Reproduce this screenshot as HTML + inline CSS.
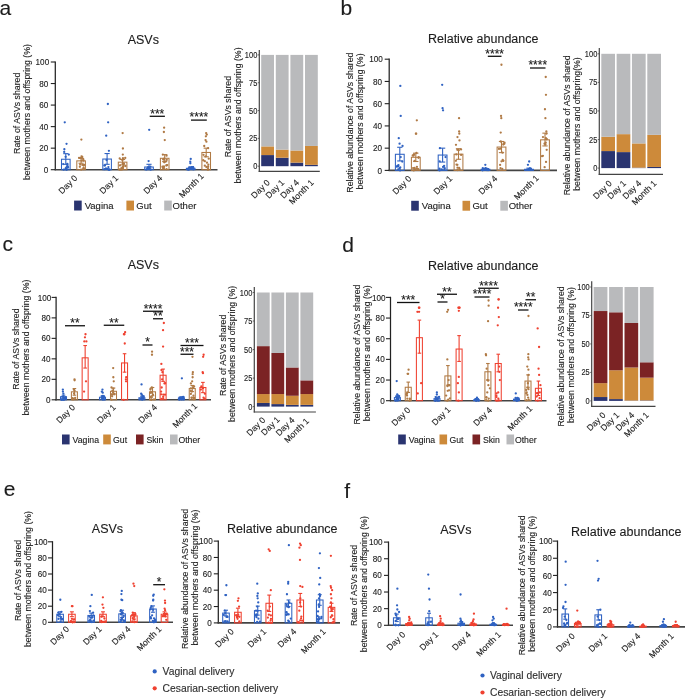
<!DOCTYPE html>
<html><head><meta charset="utf-8"><style>
html,body{margin:0;padding:0;background:#fff;}
svg{display:block;font-family:"Liberation Sans", sans-serif;will-change:transform;}
text{stroke:#1c1c1c;stroke-width:0.12px;}
</style></head><body>
<svg width="685" height="698" viewBox="0 0 685 698">
<rect width="685" height="698" fill="#fff"/>
<text x="-0.50" y="14.70" font-size="21" text-anchor="start" fill="#1c1c1c">a</text>
<text x="340.50" y="15.20" font-size="21" text-anchor="start" fill="#1c1c1c">b</text>
<text x="2.50" y="250.70" font-size="21" text-anchor="start" fill="#1c1c1c">c</text>
<text x="342.30" y="251.50" font-size="21" text-anchor="start" fill="#1c1c1c">d</text>
<text x="3.70" y="495.70" font-size="21" text-anchor="start" fill="#1c1c1c">e</text>
<text x="344.20" y="498.00" font-size="21" text-anchor="start" fill="#1c1c1c">f</text>
<text x="143.30" y="44.20" font-size="12.5" text-anchor="middle" fill="#1c1c1c">ASVs</text>
<text x="483.20" y="42.70" font-size="12.5" text-anchor="middle" fill="#1c1c1c">Relative abundance</text>
<text x="143.30" y="269.20" font-size="12.5" text-anchor="middle" fill="#1c1c1c">ASVs</text>
<text x="483.20" y="270.20" font-size="12.5" text-anchor="middle" fill="#1c1c1c">Relative abundance</text>
<text x="107.50" y="532.70" font-size="12.5" text-anchor="middle" fill="#1c1c1c">ASVs</text>
<text x="282.30" y="533.00" font-size="12.5" text-anchor="middle" fill="#1c1c1c">Relative abundance</text>
<text x="455.80" y="533.70" font-size="12.5" text-anchor="middle" fill="#1c1c1c">ASVs</text>
<text x="626.20" y="535.50" font-size="12.5" text-anchor="middle" fill="#1c1c1c">Relative abundance</text>
<text x="20.05" y="113.30" font-size="8.75" text-anchor="middle" fill="#1c1c1c" transform="rotate(-90 20.05 113.30)">Rate of ASVs shared</text>
<text x="30.30" y="112.05" font-size="8.75" text-anchor="middle" fill="#1c1c1c" transform="rotate(-90 30.30 112.05)">between mothers and offspring (%)</text>
<line x1="55.30" y1="61.40" x2="55.30" y2="170.30" stroke="#222" stroke-width="1.25" stroke-linecap="butt"/>
<line x1="54.70" y1="169.70" x2="217.50" y2="169.70" stroke="#444" stroke-width="1.6" stroke-linecap="butt"/>
<line x1="50.80" y1="169.70" x2="55.30" y2="169.70" stroke="#222" stroke-width="1.1" stroke-linecap="butt"/>
<text transform="translate(48.40 172.80) scale(0.95 1)" font-size="8.6" text-anchor="end" fill="#1c1c1c">0</text>
<line x1="50.80" y1="148.16" x2="55.30" y2="148.16" stroke="#222" stroke-width="1.1" stroke-linecap="butt"/>
<text transform="translate(48.40 151.26) scale(0.95 1)" font-size="8.6" text-anchor="end" fill="#1c1c1c">20</text>
<line x1="50.80" y1="126.62" x2="55.30" y2="126.62" stroke="#222" stroke-width="1.1" stroke-linecap="butt"/>
<text transform="translate(48.40 129.72) scale(0.95 1)" font-size="8.6" text-anchor="end" fill="#1c1c1c">40</text>
<line x1="50.80" y1="105.08" x2="55.30" y2="105.08" stroke="#222" stroke-width="1.1" stroke-linecap="butt"/>
<text transform="translate(48.40 108.18) scale(0.95 1)" font-size="8.6" text-anchor="end" fill="#1c1c1c">60</text>
<line x1="50.80" y1="83.54" x2="55.30" y2="83.54" stroke="#222" stroke-width="1.1" stroke-linecap="butt"/>
<text transform="translate(48.40 86.64) scale(0.95 1)" font-size="8.6" text-anchor="end" fill="#1c1c1c">80</text>
<line x1="50.80" y1="62.00" x2="55.30" y2="62.00" stroke="#222" stroke-width="1.1" stroke-linecap="butt"/>
<text transform="translate(49.20 65.10) scale(0.95 1)" font-size="8.6" text-anchor="end" fill="#1c1c1c">100</text>
<circle cx="64.75" cy="122.31" r="1.15" fill="#2f62c2"/>
<circle cx="66.53" cy="143.85" r="1.15" fill="#2f62c2"/>
<circle cx="64.35" cy="149.24" r="1.15" fill="#2f62c2"/>
<circle cx="64.20" cy="151.93" r="1.15" fill="#2f62c2"/>
<circle cx="68.78" cy="154.62" r="1.15" fill="#2f62c2"/>
<circle cx="65.62" cy="156.78" r="1.15" fill="#2f62c2"/>
<circle cx="67.83" cy="166.47" r="1.15" fill="#2f62c2"/>
<circle cx="65.66" cy="168.62" r="1.15" fill="#2f62c2"/>
<circle cx="66.64" cy="169.16" r="1.15" fill="#2f62c2"/>
<circle cx="63.70" cy="169.70" r="1.15" fill="#2f62c2"/>
<circle cx="66.61" cy="169.70" r="1.15" fill="#2f62c2"/>
<circle cx="68.02" cy="167.55" r="1.15" fill="#2f62c2"/>
<circle cx="65.94" cy="168.03" r="1.15" fill="#2f62c2"/>
<circle cx="67.25" cy="164.82" r="1.15" fill="#2f62c2"/>
<circle cx="66.83" cy="166.74" r="1.15" fill="#2f62c2"/>
<circle cx="63.18" cy="164.11" r="1.15" fill="#2f62c2"/>
<circle cx="67.35" cy="163.85" r="1.15" fill="#2f62c2"/>
<circle cx="66.35" cy="169.39" r="1.15" fill="#2f62c2"/>
<rect x="61.50" y="159.25" width="8.60" height="10.45" fill="none" stroke="#2f62c2" stroke-width="1.05"/>
<line x1="65.80" y1="153.65" x2="65.80" y2="164.31" stroke="#2f62c2" stroke-width="1.1" stroke-linecap="butt"/>
<line x1="63.22" y1="153.65" x2="68.38" y2="153.65" stroke="#2f62c2" stroke-width="1.1" stroke-linecap="butt"/>
<line x1="63.22" y1="164.31" x2="68.38" y2="164.31" stroke="#2f62c2" stroke-width="1.1" stroke-linecap="butt"/>
<circle cx="81.37" cy="139.54" r="1.15" fill="#b07a45"/>
<circle cx="79.90" cy="166.76" r="1.15" fill="#b07a45"/>
<circle cx="81.14" cy="169.55" r="1.15" fill="#b07a45"/>
<circle cx="80.41" cy="158.10" r="1.15" fill="#b07a45"/>
<circle cx="80.20" cy="164.41" r="1.15" fill="#b07a45"/>
<circle cx="81.61" cy="160.58" r="1.15" fill="#b07a45"/>
<circle cx="81.61" cy="157.86" r="1.15" fill="#b07a45"/>
<circle cx="83.53" cy="160.66" r="1.15" fill="#b07a45"/>
<circle cx="82.20" cy="157.12" r="1.15" fill="#b07a45"/>
<circle cx="83.68" cy="165.52" r="1.15" fill="#b07a45"/>
<circle cx="83.25" cy="159.21" r="1.15" fill="#b07a45"/>
<circle cx="84.06" cy="164.82" r="1.15" fill="#b07a45"/>
<circle cx="82.13" cy="156.86" r="1.15" fill="#b07a45"/>
<circle cx="79.07" cy="157.86" r="1.15" fill="#b07a45"/>
<circle cx="83.27" cy="169.02" r="1.15" fill="#b07a45"/>
<circle cx="83.90" cy="168.65" r="1.15" fill="#b07a45"/>
<circle cx="83.54" cy="167.78" r="1.15" fill="#b07a45"/>
<circle cx="81.52" cy="156.32" r="1.15" fill="#b07a45"/>
<circle cx="82.39" cy="164.94" r="1.15" fill="#b07a45"/>
<rect x="76.80" y="160.87" width="8.60" height="8.83" fill="none" stroke="#b07a45" stroke-width="1.05"/>
<line x1="81.10" y1="158.39" x2="81.10" y2="163.24" stroke="#b07a45" stroke-width="1.1" stroke-linecap="butt"/>
<line x1="78.52" y1="158.39" x2="83.68" y2="158.39" stroke="#b07a45" stroke-width="1.1" stroke-linecap="butt"/>
<line x1="78.52" y1="163.24" x2="83.68" y2="163.24" stroke="#b07a45" stroke-width="1.1" stroke-linecap="butt"/>
<circle cx="107.86" cy="104.00" r="1.15" fill="#2f62c2"/>
<circle cx="108.15" cy="122.31" r="1.15" fill="#2f62c2"/>
<circle cx="106.22" cy="135.67" r="1.15" fill="#2f62c2"/>
<circle cx="108.91" cy="150.85" r="1.15" fill="#2f62c2"/>
<circle cx="106.56" cy="160.01" r="1.15" fill="#2f62c2"/>
<circle cx="105.00" cy="165.39" r="1.15" fill="#2f62c2"/>
<circle cx="105.86" cy="168.62" r="1.15" fill="#2f62c2"/>
<circle cx="108.72" cy="169.70" r="1.15" fill="#2f62c2"/>
<circle cx="109.34" cy="169.70" r="1.15" fill="#2f62c2"/>
<circle cx="104.36" cy="169.16" r="1.15" fill="#2f62c2"/>
<circle cx="107.79" cy="168.99" r="1.15" fill="#2f62c2"/>
<circle cx="104.36" cy="165.46" r="1.15" fill="#2f62c2"/>
<circle cx="108.42" cy="167.09" r="1.15" fill="#2f62c2"/>
<circle cx="106.08" cy="168.65" r="1.15" fill="#2f62c2"/>
<circle cx="109.39" cy="169.55" r="1.15" fill="#2f62c2"/>
<rect x="102.80" y="159.04" width="8.60" height="10.66" fill="none" stroke="#2f62c2" stroke-width="1.05"/>
<line x1="107.10" y1="153.54" x2="107.10" y2="164.31" stroke="#2f62c2" stroke-width="1.1" stroke-linecap="butt"/>
<line x1="104.52" y1="153.54" x2="109.68" y2="153.54" stroke="#2f62c2" stroke-width="1.1" stroke-linecap="butt"/>
<line x1="104.52" y1="164.31" x2="109.68" y2="164.31" stroke="#2f62c2" stroke-width="1.1" stroke-linecap="butt"/>
<circle cx="122.64" cy="133.08" r="1.15" fill="#b07a45"/>
<circle cx="122.91" cy="148.48" r="1.15" fill="#b07a45"/>
<circle cx="122.81" cy="154.62" r="1.15" fill="#b07a45"/>
<circle cx="122.96" cy="158.15" r="1.15" fill="#b07a45"/>
<circle cx="123.32" cy="164.82" r="1.15" fill="#b07a45"/>
<circle cx="125.25" cy="157.88" r="1.15" fill="#b07a45"/>
<circle cx="122.64" cy="167.12" r="1.15" fill="#b07a45"/>
<circle cx="122.19" cy="169.28" r="1.15" fill="#b07a45"/>
<circle cx="123.93" cy="163.60" r="1.15" fill="#b07a45"/>
<circle cx="121.02" cy="169.57" r="1.15" fill="#b07a45"/>
<circle cx="121.40" cy="168.26" r="1.15" fill="#b07a45"/>
<circle cx="125.48" cy="166.01" r="1.15" fill="#b07a45"/>
<circle cx="122.73" cy="163.46" r="1.15" fill="#b07a45"/>
<circle cx="122.89" cy="168.64" r="1.15" fill="#b07a45"/>
<circle cx="119.66" cy="169.51" r="1.15" fill="#b07a45"/>
<circle cx="122.09" cy="159.85" r="1.15" fill="#b07a45"/>
<circle cx="123.08" cy="167.07" r="1.15" fill="#b07a45"/>
<circle cx="119.71" cy="158.49" r="1.15" fill="#b07a45"/>
<circle cx="123.30" cy="159.42" r="1.15" fill="#b07a45"/>
<circle cx="123.40" cy="166.36" r="1.15" fill="#b07a45"/>
<circle cx="119.95" cy="165.38" r="1.15" fill="#b07a45"/>
<rect x="118.30" y="162.16" width="8.60" height="7.54" fill="none" stroke="#b07a45" stroke-width="1.05"/>
<line x1="122.60" y1="159.47" x2="122.60" y2="164.85" stroke="#b07a45" stroke-width="1.1" stroke-linecap="butt"/>
<line x1="120.02" y1="159.47" x2="125.18" y2="159.47" stroke="#b07a45" stroke-width="1.1" stroke-linecap="butt"/>
<line x1="120.02" y1="164.85" x2="125.18" y2="164.85" stroke="#b07a45" stroke-width="1.1" stroke-linecap="butt"/>
<circle cx="149.20" cy="129.85" r="1.15" fill="#2f62c2"/>
<circle cx="148.61" cy="161.08" r="1.15" fill="#2f62c2"/>
<circle cx="148.18" cy="167.94" r="1.15" fill="#2f62c2"/>
<circle cx="147.87" cy="168.50" r="1.15" fill="#2f62c2"/>
<circle cx="148.21" cy="167.75" r="1.15" fill="#2f62c2"/>
<circle cx="149.58" cy="168.87" r="1.15" fill="#2f62c2"/>
<circle cx="147.80" cy="167.64" r="1.15" fill="#2f62c2"/>
<circle cx="148.26" cy="167.52" r="1.15" fill="#2f62c2"/>
<circle cx="150.64" cy="169.68" r="1.15" fill="#2f62c2"/>
<circle cx="146.15" cy="169.62" r="1.15" fill="#2f62c2"/>
<circle cx="149.42" cy="167.76" r="1.15" fill="#2f62c2"/>
<circle cx="150.42" cy="166.62" r="1.15" fill="#2f62c2"/>
<circle cx="147.86" cy="169.16" r="1.15" fill="#2f62c2"/>
<circle cx="147.33" cy="168.53" r="1.15" fill="#2f62c2"/>
<rect x="144.70" y="167.01" width="8.60" height="2.69" fill="none" stroke="#2f62c2" stroke-width="1.05"/>
<line x1="149.00" y1="164.31" x2="149.00" y2="169.16" stroke="#2f62c2" stroke-width="1.1" stroke-linecap="butt"/>
<line x1="146.42" y1="164.31" x2="151.58" y2="164.31" stroke="#2f62c2" stroke-width="1.1" stroke-linecap="butt"/>
<line x1="146.42" y1="169.16" x2="151.58" y2="169.16" stroke="#2f62c2" stroke-width="1.1" stroke-linecap="butt"/>
<circle cx="164.11" cy="127.70" r="1.15" fill="#b07a45"/>
<circle cx="163.88" cy="132.00" r="1.15" fill="#b07a45"/>
<circle cx="164.76" cy="140.08" r="1.15" fill="#b07a45"/>
<circle cx="162.84" cy="154.62" r="1.15" fill="#b07a45"/>
<circle cx="166.55" cy="155.70" r="1.15" fill="#b07a45"/>
<circle cx="166.74" cy="159.97" r="1.15" fill="#b07a45"/>
<circle cx="162.80" cy="167.69" r="1.15" fill="#b07a45"/>
<circle cx="163.37" cy="168.23" r="1.15" fill="#b07a45"/>
<circle cx="166.55" cy="165.32" r="1.15" fill="#b07a45"/>
<circle cx="165.55" cy="161.60" r="1.15" fill="#b07a45"/>
<circle cx="166.54" cy="169.04" r="1.15" fill="#b07a45"/>
<circle cx="163.77" cy="166.74" r="1.15" fill="#b07a45"/>
<circle cx="162.47" cy="166.60" r="1.15" fill="#b07a45"/>
<circle cx="163.45" cy="159.50" r="1.15" fill="#b07a45"/>
<circle cx="166.47" cy="165.28" r="1.15" fill="#b07a45"/>
<circle cx="163.32" cy="159.15" r="1.15" fill="#b07a45"/>
<circle cx="163.78" cy="168.42" r="1.15" fill="#b07a45"/>
<circle cx="164.20" cy="166.56" r="1.15" fill="#b07a45"/>
<circle cx="164.22" cy="162.31" r="1.15" fill="#b07a45"/>
<circle cx="164.16" cy="158.68" r="1.15" fill="#b07a45"/>
<circle cx="167.23" cy="165.11" r="1.15" fill="#b07a45"/>
<rect x="160.40" y="158.28" width="8.60" height="11.42" fill="none" stroke="#b07a45" stroke-width="1.05"/>
<line x1="164.70" y1="154.62" x2="164.70" y2="161.62" stroke="#b07a45" stroke-width="1.1" stroke-linecap="butt"/>
<line x1="162.12" y1="154.62" x2="167.28" y2="154.62" stroke="#b07a45" stroke-width="1.1" stroke-linecap="butt"/>
<line x1="162.12" y1="161.62" x2="167.28" y2="161.62" stroke="#b07a45" stroke-width="1.1" stroke-linecap="butt"/>
<circle cx="190.74" cy="158.93" r="1.15" fill="#2f62c2"/>
<circle cx="190.25" cy="161.62" r="1.15" fill="#2f62c2"/>
<circle cx="190.36" cy="163.24" r="1.15" fill="#2f62c2"/>
<circle cx="189.06" cy="169.46" r="1.15" fill="#2f62c2"/>
<circle cx="188.10" cy="169.70" r="1.15" fill="#2f62c2"/>
<circle cx="191.23" cy="167.20" r="1.15" fill="#2f62c2"/>
<circle cx="189.42" cy="167.42" r="1.15" fill="#2f62c2"/>
<circle cx="192.57" cy="167.05" r="1.15" fill="#2f62c2"/>
<circle cx="187.96" cy="168.79" r="1.15" fill="#2f62c2"/>
<circle cx="193.13" cy="167.18" r="1.15" fill="#2f62c2"/>
<circle cx="191.87" cy="167.26" r="1.15" fill="#2f62c2"/>
<circle cx="193.25" cy="169.32" r="1.15" fill="#2f62c2"/>
<circle cx="193.09" cy="167.86" r="1.15" fill="#2f62c2"/>
<circle cx="193.11" cy="167.56" r="1.15" fill="#2f62c2"/>
<circle cx="191.16" cy="168.12" r="1.15" fill="#2f62c2"/>
<rect x="186.40" y="168.30" width="8.60" height="1.40" fill="none" stroke="#2f62c2" stroke-width="1.05"/>
<line x1="190.70" y1="167.22" x2="190.70" y2="169.38" stroke="#2f62c2" stroke-width="1.1" stroke-linecap="butt"/>
<line x1="188.12" y1="167.22" x2="193.28" y2="167.22" stroke="#2f62c2" stroke-width="1.1" stroke-linecap="butt"/>
<line x1="188.12" y1="169.38" x2="193.28" y2="169.38" stroke="#2f62c2" stroke-width="1.1" stroke-linecap="butt"/>
<circle cx="206.15" cy="133.08" r="1.15" fill="#b07a45"/>
<circle cx="206.81" cy="134.59" r="1.15" fill="#b07a45"/>
<circle cx="205.88" cy="136.31" r="1.15" fill="#b07a45"/>
<circle cx="205.55" cy="140.08" r="1.15" fill="#b07a45"/>
<circle cx="206.41" cy="141.70" r="1.15" fill="#b07a45"/>
<circle cx="208.11" cy="148.16" r="1.15" fill="#b07a45"/>
<circle cx="204.22" cy="146.01" r="1.15" fill="#b07a45"/>
<circle cx="207.96" cy="169.64" r="1.15" fill="#b07a45"/>
<circle cx="208.74" cy="158.68" r="1.15" fill="#b07a45"/>
<circle cx="208.04" cy="168.06" r="1.15" fill="#b07a45"/>
<circle cx="208.15" cy="166.32" r="1.15" fill="#b07a45"/>
<circle cx="203.24" cy="160.23" r="1.15" fill="#b07a45"/>
<circle cx="206.97" cy="162.71" r="1.15" fill="#b07a45"/>
<circle cx="208.38" cy="164.57" r="1.15" fill="#b07a45"/>
<circle cx="203.49" cy="154.81" r="1.15" fill="#b07a45"/>
<circle cx="204.82" cy="161.16" r="1.15" fill="#b07a45"/>
<circle cx="204.81" cy="165.71" r="1.15" fill="#b07a45"/>
<circle cx="206.36" cy="167.00" r="1.15" fill="#b07a45"/>
<circle cx="205.74" cy="156.39" r="1.15" fill="#b07a45"/>
<rect x="201.90" y="152.47" width="8.60" height="17.23" fill="none" stroke="#b07a45" stroke-width="1.05"/>
<line x1="206.20" y1="148.16" x2="206.20" y2="156.78" stroke="#b07a45" stroke-width="1.1" stroke-linecap="butt"/>
<line x1="203.62" y1="148.16" x2="208.78" y2="148.16" stroke="#b07a45" stroke-width="1.1" stroke-linecap="butt"/>
<line x1="203.62" y1="156.78" x2="208.78" y2="156.78" stroke="#b07a45" stroke-width="1.1" stroke-linecap="butt"/>
<line x1="149.70" y1="116.30" x2="164.90" y2="116.30" stroke="#111" stroke-width="1.3" stroke-linecap="butt"/>
<text x="157.30" y="117.60" font-size="12" text-anchor="middle" fill="#1c1c1c">***</text>
<line x1="191.00" y1="120.10" x2="206.80" y2="120.10" stroke="#111" stroke-width="1.3" stroke-linecap="butt"/>
<text x="198.90" y="121.40" font-size="12" text-anchor="middle" fill="#1c1c1c">****</text>
<text x="78.00" y="178.50" font-size="8.6" text-anchor="end" fill="#1c1c1c" transform="rotate(-45 78.00 178.50)">Day 0</text>
<text x="119.00" y="178.50" font-size="8.6" text-anchor="end" fill="#1c1c1c" transform="rotate(-45 119.00 178.50)">Day 1</text>
<text x="162.80" y="178.50" font-size="8.6" text-anchor="end" fill="#1c1c1c" transform="rotate(-45 162.80 178.50)">Day 4</text>
<text x="204.50" y="176.50" font-size="8.6" text-anchor="end" fill="#1c1c1c" transform="rotate(-45 204.50 176.50)">Month 1</text>
<rect x="74.10" y="200.60" width="7.60" height="9.90" fill="#2a3470"/>
<text x="84.70" y="208.60" font-size="9.5" text-anchor="start" fill="#1c1c1c">Vagina</text>
<rect x="126.40" y="200.60" width="7.60" height="9.90" fill="#cd8a3a"/>
<text x="136.30" y="208.60" font-size="9.5" text-anchor="start" fill="#1c1c1c">Gut</text>
<rect x="164.20" y="200.60" width="7.60" height="9.90" fill="#b9babc"/>
<text x="172.60" y="208.60" font-size="9.5" text-anchor="start" fill="#1c1c1c">Other</text>
<text x="231.10" y="116.55" font-size="8.75" text-anchor="middle" fill="#1c1c1c" transform="rotate(-90 231.10 116.55)">Rate of ASVs shared</text>
<text x="240.70" y="115.45" font-size="8.75" text-anchor="middle" fill="#1c1c1c" transform="rotate(-90 240.70 115.45)">between mothers and offspring (%)</text>
<line x1="259.30" y1="49.90" x2="259.30" y2="171.90" stroke="#444" stroke-width="1.2" stroke-linecap="butt"/>
<line x1="258.70" y1="171.30" x2="319.80" y2="171.30" stroke="#444" stroke-width="1.2" stroke-linecap="butt"/>
<line x1="257.80" y1="166.20" x2="259.30" y2="166.20" stroke="#444" stroke-width="0.8" stroke-linecap="butt"/>
<text transform="translate(257.30 169.20) scale(0.9 1)" font-size="8.3" text-anchor="end" fill="#1c1c1c">0</text>
<line x1="257.80" y1="138.38" x2="259.30" y2="138.38" stroke="#444" stroke-width="0.8" stroke-linecap="butt"/>
<text transform="translate(257.30 141.38) scale(0.9 1)" font-size="8.3" text-anchor="end" fill="#1c1c1c">25</text>
<line x1="257.80" y1="110.55" x2="259.30" y2="110.55" stroke="#444" stroke-width="0.8" stroke-linecap="butt"/>
<text transform="translate(257.30 113.55) scale(0.9 1)" font-size="8.3" text-anchor="end" fill="#1c1c1c">50</text>
<line x1="257.80" y1="82.73" x2="259.30" y2="82.73" stroke="#444" stroke-width="0.8" stroke-linecap="butt"/>
<text transform="translate(257.30 85.73) scale(0.9 1)" font-size="8.3" text-anchor="end" fill="#1c1c1c">75</text>
<line x1="257.80" y1="54.90" x2="259.30" y2="54.90" stroke="#444" stroke-width="0.8" stroke-linecap="butt"/>
<text transform="translate(257.30 57.90) scale(0.9 1)" font-size="8.3" text-anchor="end" fill="#1c1c1c">100</text>
<rect x="261.20" y="155.07" width="12.80" height="11.13" fill="#2a3470"/>
<rect x="261.20" y="146.39" width="12.80" height="8.68" fill="#cd8a3a"/>
<rect x="261.20" y="54.90" width="12.80" height="91.49" fill="#b9babc"/>
<rect x="275.80" y="157.74" width="12.80" height="8.46" fill="#2a3470"/>
<rect x="275.80" y="149.62" width="12.80" height="8.12" fill="#cd8a3a"/>
<rect x="275.80" y="54.90" width="12.80" height="94.72" fill="#b9babc"/>
<rect x="290.40" y="162.64" width="12.80" height="3.56" fill="#2a3470"/>
<rect x="290.40" y="150.51" width="12.80" height="12.13" fill="#cd8a3a"/>
<rect x="290.40" y="54.90" width="12.80" height="95.61" fill="#b9babc"/>
<rect x="305.00" y="164.86" width="12.80" height="1.34" fill="#2a3470"/>
<rect x="305.00" y="145.94" width="12.80" height="18.92" fill="#cd8a3a"/>
<rect x="305.00" y="54.90" width="12.80" height="91.04" fill="#b9babc"/>
<text x="270.50" y="183.00" font-size="8.6" text-anchor="end" fill="#1c1c1c" transform="rotate(-45 270.50 183.00)">Day 0</text>
<text x="285.00" y="183.00" font-size="8.6" text-anchor="end" fill="#1c1c1c" transform="rotate(-45 285.00 183.00)">Day 1</text>
<text x="299.60" y="183.00" font-size="8.6" text-anchor="end" fill="#1c1c1c" transform="rotate(-45 299.60 183.00)">Day 4</text>
<text x="314.50" y="183.00" font-size="8.6" text-anchor="end" fill="#1c1c1c" transform="rotate(-45 314.50 183.00)">Month 1</text>
<text x="353.10" y="122.60" font-size="8.75" text-anchor="middle" fill="#1c1c1c" transform="rotate(-90 353.10 122.60)">Relative abundance of ASVs shared</text>
<text x="362.60" y="121.45" font-size="8.75" text-anchor="middle" fill="#1c1c1c" transform="rotate(-90 362.60 121.45)">between mothers and offspring (%)</text>
<line x1="389.20" y1="58.60" x2="389.20" y2="171.00" stroke="#222" stroke-width="1.25" stroke-linecap="butt"/>
<line x1="388.60" y1="170.40" x2="557.00" y2="170.40" stroke="#444" stroke-width="1.6" stroke-linecap="butt"/>
<line x1="384.70" y1="170.40" x2="389.20" y2="170.40" stroke="#222" stroke-width="1.1" stroke-linecap="butt"/>
<text transform="translate(382.00 173.50) scale(0.95 1)" font-size="8.6" text-anchor="end" fill="#1c1c1c">0</text>
<line x1="384.70" y1="148.16" x2="389.20" y2="148.16" stroke="#222" stroke-width="1.1" stroke-linecap="butt"/>
<text transform="translate(382.00 151.26) scale(0.95 1)" font-size="8.6" text-anchor="end" fill="#1c1c1c">20</text>
<line x1="384.70" y1="125.92" x2="389.20" y2="125.92" stroke="#222" stroke-width="1.1" stroke-linecap="butt"/>
<text transform="translate(382.00 129.02) scale(0.95 1)" font-size="8.6" text-anchor="end" fill="#1c1c1c">40</text>
<line x1="384.70" y1="103.68" x2="389.20" y2="103.68" stroke="#222" stroke-width="1.1" stroke-linecap="butt"/>
<text transform="translate(382.00 106.78) scale(0.95 1)" font-size="8.6" text-anchor="end" fill="#1c1c1c">60</text>
<line x1="384.70" y1="81.44" x2="389.20" y2="81.44" stroke="#222" stroke-width="1.1" stroke-linecap="butt"/>
<text transform="translate(382.00 84.54) scale(0.95 1)" font-size="8.6" text-anchor="end" fill="#1c1c1c">80</text>
<line x1="384.70" y1="59.20" x2="389.20" y2="59.20" stroke="#222" stroke-width="1.1" stroke-linecap="butt"/>
<text transform="translate(382.80 62.30) scale(0.95 1)" font-size="8.6" text-anchor="end" fill="#1c1c1c">100</text>
<circle cx="400.33" cy="85.89" r="1.15" fill="#2f62c2"/>
<circle cx="400.73" cy="115.91" r="1.15" fill="#2f62c2"/>
<circle cx="398.76" cy="138.15" r="1.15" fill="#2f62c2"/>
<circle cx="399.59" cy="143.71" r="1.15" fill="#2f62c2"/>
<circle cx="402.53" cy="145.94" r="1.15" fill="#2f62c2"/>
<circle cx="400.72" cy="157.06" r="1.15" fill="#2f62c2"/>
<circle cx="402.27" cy="161.50" r="1.15" fill="#2f62c2"/>
<circle cx="397.42" cy="165.95" r="1.15" fill="#2f62c2"/>
<circle cx="399.61" cy="168.18" r="1.15" fill="#2f62c2"/>
<circle cx="398.24" cy="169.29" r="1.15" fill="#2f62c2"/>
<circle cx="400.07" cy="170.40" r="1.15" fill="#2f62c2"/>
<circle cx="400.26" cy="167.40" r="1.15" fill="#2f62c2"/>
<circle cx="396.80" cy="166.63" r="1.15" fill="#2f62c2"/>
<circle cx="398.06" cy="166.27" r="1.15" fill="#2f62c2"/>
<circle cx="398.44" cy="165.25" r="1.15" fill="#2f62c2"/>
<rect x="395.40" y="154.28" width="8.80" height="16.12" fill="none" stroke="#2f62c2" stroke-width="1.05"/>
<line x1="399.80" y1="147.27" x2="399.80" y2="160.95" stroke="#2f62c2" stroke-width="1.1" stroke-linecap="butt"/>
<line x1="397.16" y1="147.27" x2="402.44" y2="147.27" stroke="#2f62c2" stroke-width="1.1" stroke-linecap="butt"/>
<line x1="397.16" y1="160.95" x2="402.44" y2="160.95" stroke="#2f62c2" stroke-width="1.1" stroke-linecap="butt"/>
<circle cx="416.82" cy="120.36" r="1.15" fill="#b07a45"/>
<circle cx="415.89" cy="133.70" r="1.15" fill="#b07a45"/>
<circle cx="416.19" cy="133.70" r="1.15" fill="#b07a45"/>
<circle cx="413.98" cy="154.52" r="1.15" fill="#b07a45"/>
<circle cx="418.52" cy="157.82" r="1.15" fill="#b07a45"/>
<circle cx="416.97" cy="168.76" r="1.15" fill="#b07a45"/>
<circle cx="418.67" cy="157.15" r="1.15" fill="#b07a45"/>
<circle cx="418.23" cy="169.03" r="1.15" fill="#b07a45"/>
<circle cx="414.56" cy="160.89" r="1.15" fill="#b07a45"/>
<circle cx="414.94" cy="169.19" r="1.15" fill="#b07a45"/>
<circle cx="413.74" cy="170.40" r="1.15" fill="#b07a45"/>
<circle cx="413.62" cy="155.52" r="1.15" fill="#b07a45"/>
<circle cx="413.12" cy="168.07" r="1.15" fill="#b07a45"/>
<circle cx="414.58" cy="167.98" r="1.15" fill="#b07a45"/>
<circle cx="416.44" cy="153.01" r="1.15" fill="#b07a45"/>
<circle cx="412.74" cy="155.50" r="1.15" fill="#b07a45"/>
<circle cx="416.90" cy="166.85" r="1.15" fill="#b07a45"/>
<rect x="411.40" y="157.28" width="8.80" height="13.12" fill="none" stroke="#b07a45" stroke-width="1.05"/>
<line x1="415.80" y1="153.16" x2="415.80" y2="161.50" stroke="#b07a45" stroke-width="1.1" stroke-linecap="butt"/>
<line x1="413.16" y1="153.16" x2="418.44" y2="153.16" stroke="#b07a45" stroke-width="1.1" stroke-linecap="butt"/>
<line x1="413.16" y1="161.50" x2="418.44" y2="161.50" stroke="#b07a45" stroke-width="1.1" stroke-linecap="butt"/>
<circle cx="442.19" cy="84.78" r="1.15" fill="#2f62c2"/>
<circle cx="442.56" cy="108.13" r="1.15" fill="#2f62c2"/>
<circle cx="443.05" cy="110.35" r="1.15" fill="#2f62c2"/>
<circle cx="439.87" cy="148.16" r="1.15" fill="#2f62c2"/>
<circle cx="445.53" cy="157.06" r="1.15" fill="#2f62c2"/>
<circle cx="439.66" cy="161.50" r="1.15" fill="#2f62c2"/>
<circle cx="444.14" cy="165.95" r="1.15" fill="#2f62c2"/>
<circle cx="444.72" cy="168.18" r="1.15" fill="#2f62c2"/>
<circle cx="439.63" cy="170.40" r="1.15" fill="#2f62c2"/>
<circle cx="444.37" cy="169.31" r="1.15" fill="#2f62c2"/>
<circle cx="441.78" cy="169.43" r="1.15" fill="#2f62c2"/>
<circle cx="443.08" cy="166.97" r="1.15" fill="#2f62c2"/>
<circle cx="439.58" cy="168.68" r="1.15" fill="#2f62c2"/>
<rect x="438.20" y="155.05" width="8.80" height="15.35" fill="none" stroke="#2f62c2" stroke-width="1.05"/>
<line x1="442.60" y1="148.16" x2="442.60" y2="162.06" stroke="#2f62c2" stroke-width="1.1" stroke-linecap="butt"/>
<line x1="439.96" y1="148.16" x2="445.24" y2="148.16" stroke="#2f62c2" stroke-width="1.1" stroke-linecap="butt"/>
<line x1="439.96" y1="162.06" x2="445.24" y2="162.06" stroke="#2f62c2" stroke-width="1.1" stroke-linecap="butt"/>
<circle cx="459.05" cy="118.14" r="1.15" fill="#b07a45"/>
<circle cx="459.15" cy="131.48" r="1.15" fill="#b07a45"/>
<circle cx="459.29" cy="133.70" r="1.15" fill="#b07a45"/>
<circle cx="457.48" cy="137.04" r="1.15" fill="#b07a45"/>
<circle cx="459.48" cy="140.38" r="1.15" fill="#b07a45"/>
<circle cx="455.98" cy="144.82" r="1.15" fill="#b07a45"/>
<circle cx="457.52" cy="169.99" r="1.15" fill="#b07a45"/>
<circle cx="459.18" cy="167.99" r="1.15" fill="#b07a45"/>
<circle cx="461.08" cy="149.45" r="1.15" fill="#b07a45"/>
<circle cx="457.51" cy="167.72" r="1.15" fill="#b07a45"/>
<circle cx="461.11" cy="154.95" r="1.15" fill="#b07a45"/>
<circle cx="458.78" cy="150.17" r="1.15" fill="#b07a45"/>
<circle cx="457.34" cy="149.82" r="1.15" fill="#b07a45"/>
<circle cx="457.37" cy="164.84" r="1.15" fill="#b07a45"/>
<circle cx="456.51" cy="164.62" r="1.15" fill="#b07a45"/>
<circle cx="455.90" cy="160.78" r="1.15" fill="#b07a45"/>
<circle cx="456.34" cy="154.42" r="1.15" fill="#b07a45"/>
<circle cx="459.67" cy="169.17" r="1.15" fill="#b07a45"/>
<rect x="454.10" y="154.16" width="8.80" height="16.24" fill="none" stroke="#b07a45" stroke-width="1.05"/>
<line x1="458.50" y1="148.72" x2="458.50" y2="159.28" stroke="#b07a45" stroke-width="1.1" stroke-linecap="butt"/>
<line x1="455.86" y1="148.72" x2="461.14" y2="148.72" stroke="#b07a45" stroke-width="1.1" stroke-linecap="butt"/>
<line x1="455.86" y1="159.28" x2="461.14" y2="159.28" stroke="#b07a45" stroke-width="1.1" stroke-linecap="butt"/>
<circle cx="485.33" cy="164.84" r="1.15" fill="#2f62c2"/>
<circle cx="482.76" cy="168.19" r="1.15" fill="#2f62c2"/>
<circle cx="488.06" cy="170.19" r="1.15" fill="#2f62c2"/>
<circle cx="482.62" cy="170.36" r="1.15" fill="#2f62c2"/>
<circle cx="485.46" cy="168.21" r="1.15" fill="#2f62c2"/>
<circle cx="487.58" cy="169.42" r="1.15" fill="#2f62c2"/>
<circle cx="483.22" cy="169.71" r="1.15" fill="#2f62c2"/>
<circle cx="486.93" cy="170.06" r="1.15" fill="#2f62c2"/>
<circle cx="488.27" cy="169.27" r="1.15" fill="#2f62c2"/>
<circle cx="486.30" cy="168.66" r="1.15" fill="#2f62c2"/>
<circle cx="487.27" cy="169.60" r="1.15" fill="#2f62c2"/>
<rect x="481.10" y="169.29" width="8.80" height="1.11" fill="none" stroke="#2f62c2" stroke-width="1.05"/>
<line x1="485.50" y1="168.40" x2="485.50" y2="170.18" stroke="#2f62c2" stroke-width="1.1" stroke-linecap="butt"/>
<line x1="482.86" y1="168.40" x2="488.14" y2="168.40" stroke="#2f62c2" stroke-width="1.1" stroke-linecap="butt"/>
<line x1="482.86" y1="170.18" x2="488.14" y2="170.18" stroke="#2f62c2" stroke-width="1.1" stroke-linecap="butt"/>
<circle cx="501.45" cy="64.76" r="1.15" fill="#b07a45"/>
<circle cx="501.04" cy="115.91" r="1.15" fill="#b07a45"/>
<circle cx="501.29" cy="118.14" r="1.15" fill="#b07a45"/>
<circle cx="500.72" cy="132.59" r="1.15" fill="#b07a45"/>
<circle cx="500.74" cy="141.49" r="1.15" fill="#b07a45"/>
<circle cx="504.51" cy="142.60" r="1.15" fill="#b07a45"/>
<circle cx="504.33" cy="143.71" r="1.15" fill="#b07a45"/>
<circle cx="502.28" cy="168.95" r="1.15" fill="#b07a45"/>
<circle cx="501.50" cy="161.37" r="1.15" fill="#b07a45"/>
<circle cx="500.51" cy="168.15" r="1.15" fill="#b07a45"/>
<circle cx="498.97" cy="148.97" r="1.15" fill="#b07a45"/>
<circle cx="500.10" cy="164.95" r="1.15" fill="#b07a45"/>
<circle cx="503.24" cy="160.86" r="1.15" fill="#b07a45"/>
<circle cx="503.76" cy="143.74" r="1.15" fill="#b07a45"/>
<circle cx="500.65" cy="148.72" r="1.15" fill="#b07a45"/>
<circle cx="503.26" cy="144.54" r="1.15" fill="#b07a45"/>
<circle cx="503.19" cy="160.85" r="1.15" fill="#b07a45"/>
<circle cx="502.70" cy="159.89" r="1.15" fill="#b07a45"/>
<circle cx="502.51" cy="152.69" r="1.15" fill="#b07a45"/>
<rect x="497.10" y="147.05" width="8.80" height="23.35" fill="none" stroke="#b07a45" stroke-width="1.05"/>
<line x1="501.50" y1="141.49" x2="501.50" y2="152.61" stroke="#b07a45" stroke-width="1.1" stroke-linecap="butt"/>
<line x1="498.86" y1="141.49" x2="504.14" y2="141.49" stroke="#b07a45" stroke-width="1.1" stroke-linecap="butt"/>
<line x1="498.86" y1="152.61" x2="504.14" y2="152.61" stroke="#b07a45" stroke-width="1.1" stroke-linecap="butt"/>
<circle cx="529.18" cy="161.50" r="1.15" fill="#2f62c2"/>
<circle cx="527.93" cy="164.84" r="1.15" fill="#2f62c2"/>
<circle cx="529.29" cy="168.84" r="1.15" fill="#2f62c2"/>
<circle cx="527.46" cy="169.80" r="1.15" fill="#2f62c2"/>
<circle cx="530.06" cy="168.99" r="1.15" fill="#2f62c2"/>
<circle cx="528.77" cy="169.97" r="1.15" fill="#2f62c2"/>
<circle cx="530.95" cy="169.53" r="1.15" fill="#2f62c2"/>
<circle cx="529.91" cy="168.82" r="1.15" fill="#2f62c2"/>
<circle cx="530.83" cy="169.02" r="1.15" fill="#2f62c2"/>
<circle cx="528.06" cy="169.95" r="1.15" fill="#2f62c2"/>
<circle cx="529.89" cy="168.33" r="1.15" fill="#2f62c2"/>
<circle cx="530.47" cy="169.13" r="1.15" fill="#2f62c2"/>
<rect x="524.60" y="169.29" width="8.80" height="1.11" fill="none" stroke="#2f62c2" stroke-width="1.05"/>
<line x1="529.00" y1="168.18" x2="529.00" y2="170.18" stroke="#2f62c2" stroke-width="1.1" stroke-linecap="butt"/>
<line x1="526.36" y1="168.18" x2="531.64" y2="168.18" stroke="#2f62c2" stroke-width="1.1" stroke-linecap="butt"/>
<line x1="526.36" y1="170.18" x2="531.64" y2="170.18" stroke="#2f62c2" stroke-width="1.1" stroke-linecap="butt"/>
<circle cx="545.74" cy="76.99" r="1.15" fill="#b07a45"/>
<circle cx="545.96" cy="94.78" r="1.15" fill="#b07a45"/>
<circle cx="544.95" cy="109.24" r="1.15" fill="#b07a45"/>
<circle cx="545.42" cy="118.14" r="1.15" fill="#b07a45"/>
<circle cx="546.35" cy="131.48" r="1.15" fill="#b07a45"/>
<circle cx="546.42" cy="133.70" r="1.15" fill="#b07a45"/>
<circle cx="542.98" cy="137.04" r="1.15" fill="#b07a45"/>
<circle cx="546.73" cy="139.26" r="1.15" fill="#b07a45"/>
<circle cx="545.50" cy="144.29" r="1.15" fill="#b07a45"/>
<circle cx="546.02" cy="161.88" r="1.15" fill="#b07a45"/>
<circle cx="544.51" cy="143.69" r="1.15" fill="#b07a45"/>
<circle cx="545.76" cy="142.57" r="1.15" fill="#b07a45"/>
<circle cx="546.69" cy="149.87" r="1.15" fill="#b07a45"/>
<circle cx="545.84" cy="138.07" r="1.15" fill="#b07a45"/>
<circle cx="546.36" cy="138.91" r="1.15" fill="#b07a45"/>
<circle cx="542.09" cy="156.21" r="1.15" fill="#b07a45"/>
<circle cx="542.91" cy="155.81" r="1.15" fill="#b07a45"/>
<circle cx="544.64" cy="167.16" r="1.15" fill="#b07a45"/>
<rect x="540.60" y="139.82" width="8.80" height="30.58" fill="none" stroke="#b07a45" stroke-width="1.05"/>
<line x1="545.00" y1="133.15" x2="545.00" y2="145.94" stroke="#b07a45" stroke-width="1.1" stroke-linecap="butt"/>
<line x1="542.36" y1="133.15" x2="547.64" y2="133.15" stroke="#b07a45" stroke-width="1.1" stroke-linecap="butt"/>
<line x1="542.36" y1="145.94" x2="547.64" y2="145.94" stroke="#b07a45" stroke-width="1.1" stroke-linecap="butt"/>
<line x1="487.80" y1="56.30" x2="501.50" y2="56.30" stroke="#111" stroke-width="1.3" stroke-linecap="butt"/>
<text x="494.65" y="57.60" font-size="12" text-anchor="middle" fill="#1c1c1c">****</text>
<line x1="530.00" y1="68.00" x2="545.50" y2="68.00" stroke="#111" stroke-width="1.3" stroke-linecap="butt"/>
<text x="537.75" y="69.30" font-size="12" text-anchor="middle" fill="#1c1c1c">****</text>
<text x="412.00" y="179.20" font-size="8.6" text-anchor="end" fill="#1c1c1c" transform="rotate(-45 412.00 179.20)">Day 0</text>
<text x="453.00" y="179.20" font-size="8.6" text-anchor="end" fill="#1c1c1c" transform="rotate(-45 453.00 179.20)">Day 1</text>
<text x="498.00" y="179.20" font-size="8.6" text-anchor="end" fill="#1c1c1c" transform="rotate(-45 498.00 179.20)">Day 4</text>
<text x="539.50" y="178.50" font-size="8.6" text-anchor="end" fill="#1c1c1c" transform="rotate(-45 539.50 178.50)">Month 1</text>
<rect x="411.20" y="200.80" width="7.60" height="9.90" fill="#2a3470"/>
<text x="421.80" y="208.80" font-size="9.5" text-anchor="start" fill="#1c1c1c">Vagina</text>
<rect x="462.50" y="200.80" width="7.60" height="9.90" fill="#cd8a3a"/>
<text x="472.40" y="208.80" font-size="9.5" text-anchor="start" fill="#1c1c1c">Gut</text>
<rect x="500.30" y="200.80" width="7.60" height="9.90" fill="#b9babc"/>
<text x="508.70" y="208.80" font-size="9.5" text-anchor="start" fill="#1c1c1c">Other</text>
<text x="570.05" y="125.30" font-size="8.75" text-anchor="middle" fill="#1c1c1c" transform="rotate(-90 570.05 125.30)">Relative abundance of ASVs shared</text>
<text x="579.80" y="124.05" font-size="8.75" text-anchor="middle" fill="#1c1c1c" transform="rotate(-90 579.80 124.05)">between mothers and offspring(%)</text>
<line x1="599.30" y1="48.00" x2="599.30" y2="175.00" stroke="#444" stroke-width="1.2" stroke-linecap="butt"/>
<line x1="598.70" y1="174.40" x2="663.00" y2="174.40" stroke="#444" stroke-width="1.2" stroke-linecap="butt"/>
<line x1="597.80" y1="168.10" x2="599.30" y2="168.10" stroke="#444" stroke-width="0.8" stroke-linecap="butt"/>
<text transform="translate(597.30 171.10) scale(0.9 1)" font-size="8.3" text-anchor="end" fill="#1c1c1c">0</text>
<line x1="597.80" y1="139.53" x2="599.30" y2="139.53" stroke="#444" stroke-width="0.8" stroke-linecap="butt"/>
<text transform="translate(597.30 142.53) scale(0.9 1)" font-size="8.3" text-anchor="end" fill="#1c1c1c">25</text>
<line x1="597.80" y1="110.95" x2="599.30" y2="110.95" stroke="#444" stroke-width="0.8" stroke-linecap="butt"/>
<text transform="translate(597.30 113.95) scale(0.9 1)" font-size="8.3" text-anchor="end" fill="#1c1c1c">50</text>
<line x1="597.80" y1="82.38" x2="599.30" y2="82.38" stroke="#444" stroke-width="0.8" stroke-linecap="butt"/>
<text transform="translate(597.30 85.38) scale(0.9 1)" font-size="8.3" text-anchor="end" fill="#1c1c1c">75</text>
<line x1="597.80" y1="53.80" x2="599.30" y2="53.80" stroke="#444" stroke-width="0.8" stroke-linecap="butt"/>
<text transform="translate(597.30 56.80) scale(0.9 1)" font-size="8.3" text-anchor="end" fill="#1c1c1c">100</text>
<rect x="601.30" y="151.07" width="13.70" height="17.03" fill="#2a3470"/>
<rect x="601.30" y="136.78" width="13.70" height="14.29" fill="#cd8a3a"/>
<rect x="601.30" y="53.80" width="13.70" height="82.98" fill="#b9babc"/>
<rect x="616.63" y="152.10" width="13.70" height="16.00" fill="#2a3470"/>
<rect x="616.63" y="134.15" width="13.70" height="17.95" fill="#cd8a3a"/>
<rect x="616.63" y="53.80" width="13.70" height="80.35" fill="#b9babc"/>
<rect x="631.96" y="167.64" width="13.70" height="0.46" fill="#2a3470"/>
<rect x="631.96" y="143.41" width="13.70" height="24.23" fill="#cd8a3a"/>
<rect x="631.96" y="53.80" width="13.70" height="89.61" fill="#b9babc"/>
<rect x="647.29" y="166.96" width="13.70" height="1.14" fill="#2a3470"/>
<rect x="647.29" y="134.84" width="13.70" height="32.12" fill="#cd8a3a"/>
<rect x="647.29" y="53.80" width="13.70" height="81.04" fill="#b9babc"/>
<text x="612.50" y="183.80" font-size="8.6" text-anchor="end" fill="#1c1c1c" transform="rotate(-45 612.50 183.80)">Day 0</text>
<text x="626.70" y="183.80" font-size="8.6" text-anchor="end" fill="#1c1c1c" transform="rotate(-45 626.70 183.80)">Day 1</text>
<text x="641.90" y="183.80" font-size="8.6" text-anchor="end" fill="#1c1c1c" transform="rotate(-45 641.90 183.80)">Day 4</text>
<text x="657.10" y="183.80" font-size="8.6" text-anchor="end" fill="#1c1c1c" transform="rotate(-45 657.10 183.80)">Month 1</text>
<text x="19.00" y="349.05" font-size="8.75" text-anchor="middle" fill="#1c1c1c" transform="rotate(-90 19.00 349.05)">Rate of ASVs shared</text>
<text x="28.90" y="347.55" font-size="8.75" text-anchor="middle" fill="#1c1c1c" transform="rotate(-90 28.90 347.55)">between mothers and offspring (%)</text>
<line x1="56.10" y1="296.80" x2="56.10" y2="400.40" stroke="#222" stroke-width="1.25" stroke-linecap="butt"/>
<line x1="55.50" y1="399.80" x2="211.00" y2="399.80" stroke="#444" stroke-width="1.6" stroke-linecap="butt"/>
<line x1="51.60" y1="399.80" x2="56.10" y2="399.80" stroke="#222" stroke-width="1.1" stroke-linecap="butt"/>
<text transform="translate(50.60 402.90) scale(0.95 1)" font-size="8.6" text-anchor="end" fill="#1c1c1c">0</text>
<line x1="51.60" y1="379.32" x2="56.10" y2="379.32" stroke="#222" stroke-width="1.1" stroke-linecap="butt"/>
<text transform="translate(50.60 382.42) scale(0.95 1)" font-size="8.6" text-anchor="end" fill="#1c1c1c">20</text>
<line x1="51.60" y1="358.84" x2="56.10" y2="358.84" stroke="#222" stroke-width="1.1" stroke-linecap="butt"/>
<text transform="translate(50.60 361.94) scale(0.95 1)" font-size="8.6" text-anchor="end" fill="#1c1c1c">40</text>
<line x1="51.60" y1="338.36" x2="56.10" y2="338.36" stroke="#222" stroke-width="1.1" stroke-linecap="butt"/>
<text transform="translate(50.60 341.46) scale(0.95 1)" font-size="8.6" text-anchor="end" fill="#1c1c1c">60</text>
<line x1="51.60" y1="317.88" x2="56.10" y2="317.88" stroke="#222" stroke-width="1.1" stroke-linecap="butt"/>
<text transform="translate(50.60 320.98) scale(0.95 1)" font-size="8.6" text-anchor="end" fill="#1c1c1c">80</text>
<line x1="51.60" y1="297.40" x2="56.10" y2="297.40" stroke="#222" stroke-width="1.1" stroke-linecap="butt"/>
<text transform="translate(51.40 300.50) scale(0.95 1)" font-size="8.6" text-anchor="end" fill="#1c1c1c">100</text>
<circle cx="62.85" cy="389.56" r="1.15" fill="#2f62c2"/>
<circle cx="62.89" cy="391.61" r="1.15" fill="#2f62c2"/>
<circle cx="63.39" cy="393.66" r="1.15" fill="#2f62c2"/>
<circle cx="64.87" cy="398.62" r="1.15" fill="#2f62c2"/>
<circle cx="61.92" cy="399.36" r="1.15" fill="#2f62c2"/>
<circle cx="62.34" cy="396.87" r="1.15" fill="#2f62c2"/>
<circle cx="64.04" cy="399.63" r="1.15" fill="#2f62c2"/>
<circle cx="65.38" cy="397.52" r="1.15" fill="#2f62c2"/>
<circle cx="63.82" cy="398.42" r="1.15" fill="#2f62c2"/>
<circle cx="63.07" cy="399.67" r="1.15" fill="#2f62c2"/>
<circle cx="65.50" cy="397.68" r="1.15" fill="#2f62c2"/>
<circle cx="61.60" cy="399.73" r="1.15" fill="#2f62c2"/>
<circle cx="65.01" cy="398.07" r="1.15" fill="#2f62c2"/>
<rect x="60.50" y="396.73" width="6.00" height="3.07" fill="none" stroke="#2f62c2" stroke-width="1.05"/>
<line x1="63.50" y1="395.19" x2="63.50" y2="398.26" stroke="#2f62c2" stroke-width="1.1" stroke-linecap="butt"/>
<line x1="61.70" y1="395.19" x2="65.30" y2="395.19" stroke="#2f62c2" stroke-width="1.1" stroke-linecap="butt"/>
<line x1="61.70" y1="398.26" x2="65.30" y2="398.26" stroke="#2f62c2" stroke-width="1.1" stroke-linecap="butt"/>
<circle cx="74.52" cy="379.32" r="1.15" fill="#b07a45"/>
<circle cx="74.61" cy="380.34" r="1.15" fill="#b07a45"/>
<circle cx="73.86" cy="389.56" r="1.15" fill="#b07a45"/>
<circle cx="74.60" cy="390.58" r="1.15" fill="#b07a45"/>
<circle cx="72.56" cy="398.16" r="1.15" fill="#b07a45"/>
<circle cx="72.55" cy="399.14" r="1.15" fill="#b07a45"/>
<circle cx="73.17" cy="399.29" r="1.15" fill="#b07a45"/>
<circle cx="75.16" cy="398.02" r="1.15" fill="#b07a45"/>
<circle cx="74.10" cy="393.51" r="1.15" fill="#b07a45"/>
<circle cx="73.62" cy="398.91" r="1.15" fill="#b07a45"/>
<rect x="71.40" y="391.81" width="6.00" height="7.99" fill="none" stroke="#b07a45" stroke-width="1.05"/>
<line x1="74.40" y1="388.54" x2="74.40" y2="395.19" stroke="#b07a45" stroke-width="1.1" stroke-linecap="butt"/>
<line x1="72.60" y1="388.54" x2="76.20" y2="388.54" stroke="#b07a45" stroke-width="1.1" stroke-linecap="butt"/>
<line x1="72.60" y1="395.19" x2="76.20" y2="395.19" stroke="#b07a45" stroke-width="1.1" stroke-linecap="butt"/>
<circle cx="85.51" cy="334.26" r="1.15" fill="#ef4130"/>
<circle cx="84.95" cy="337.34" r="1.15" fill="#ef4130"/>
<circle cx="84.31" cy="341.43" r="1.15" fill="#ef4130"/>
<circle cx="86.39" cy="341.43" r="1.15" fill="#ef4130"/>
<circle cx="85.99" cy="381.37" r="1.15" fill="#ef4130"/>
<circle cx="84.08" cy="391.61" r="1.15" fill="#ef4130"/>
<rect x="82.15" y="357.82" width="6.00" height="41.98" fill="none" stroke="#ef4130" stroke-width="1.05"/>
<line x1="85.15" y1="345.53" x2="85.15" y2="368.06" stroke="#ef4130" stroke-width="1.1" stroke-linecap="butt"/>
<line x1="83.35" y1="345.53" x2="86.95" y2="345.53" stroke="#ef4130" stroke-width="1.1" stroke-linecap="butt"/>
<line x1="83.35" y1="368.06" x2="86.95" y2="368.06" stroke="#ef4130" stroke-width="1.1" stroke-linecap="butt"/>
<circle cx="102.48" cy="389.56" r="1.15" fill="#2f62c2"/>
<circle cx="101.81" cy="391.61" r="1.15" fill="#2f62c2"/>
<circle cx="102.75" cy="392.63" r="1.15" fill="#2f62c2"/>
<circle cx="103.61" cy="397.81" r="1.15" fill="#2f62c2"/>
<circle cx="102.81" cy="398.03" r="1.15" fill="#2f62c2"/>
<circle cx="104.08" cy="396.36" r="1.15" fill="#2f62c2"/>
<circle cx="101.72" cy="397.08" r="1.15" fill="#2f62c2"/>
<circle cx="103.32" cy="398.99" r="1.15" fill="#2f62c2"/>
<circle cx="102.90" cy="395.81" r="1.15" fill="#2f62c2"/>
<circle cx="102.84" cy="399.55" r="1.15" fill="#2f62c2"/>
<circle cx="102.32" cy="398.48" r="1.15" fill="#2f62c2"/>
<circle cx="103.93" cy="396.95" r="1.15" fill="#2f62c2"/>
<circle cx="104.37" cy="399.45" r="1.15" fill="#2f62c2"/>
<rect x="99.50" y="397.24" width="6.00" height="2.56" fill="none" stroke="#2f62c2" stroke-width="1.05"/>
<line x1="102.50" y1="395.70" x2="102.50" y2="398.78" stroke="#2f62c2" stroke-width="1.1" stroke-linecap="butt"/>
<line x1="100.70" y1="395.70" x2="104.30" y2="395.70" stroke="#2f62c2" stroke-width="1.1" stroke-linecap="butt"/>
<line x1="100.70" y1="398.78" x2="104.30" y2="398.78" stroke="#2f62c2" stroke-width="1.1" stroke-linecap="butt"/>
<circle cx="113.18" cy="368.06" r="1.15" fill="#b07a45"/>
<circle cx="113.33" cy="377.27" r="1.15" fill="#b07a45"/>
<circle cx="113.75" cy="381.37" r="1.15" fill="#b07a45"/>
<circle cx="111.49" cy="387.51" r="1.15" fill="#b07a45"/>
<circle cx="113.34" cy="388.54" r="1.15" fill="#b07a45"/>
<circle cx="112.11" cy="396.31" r="1.15" fill="#b07a45"/>
<circle cx="111.89" cy="394.39" r="1.15" fill="#b07a45"/>
<circle cx="111.65" cy="399.56" r="1.15" fill="#b07a45"/>
<circle cx="114.63" cy="393.99" r="1.15" fill="#b07a45"/>
<circle cx="111.94" cy="394.57" r="1.15" fill="#b07a45"/>
<circle cx="112.44" cy="390.67" r="1.15" fill="#b07a45"/>
<circle cx="113.04" cy="392.66" r="1.15" fill="#b07a45"/>
<rect x="110.50" y="391.30" width="6.00" height="8.50" fill="none" stroke="#b07a45" stroke-width="1.05"/>
<line x1="113.50" y1="388.02" x2="113.50" y2="394.68" stroke="#b07a45" stroke-width="1.1" stroke-linecap="butt"/>
<line x1="111.70" y1="388.02" x2="115.30" y2="388.02" stroke="#b07a45" stroke-width="1.1" stroke-linecap="butt"/>
<line x1="111.70" y1="394.68" x2="115.30" y2="394.68" stroke="#b07a45" stroke-width="1.1" stroke-linecap="butt"/>
<circle cx="125.11" cy="332.22" r="1.15" fill="#ef4130"/>
<circle cx="123.92" cy="334.26" r="1.15" fill="#ef4130"/>
<circle cx="124.47" cy="334.26" r="1.15" fill="#ef4130"/>
<circle cx="124.76" cy="343.48" r="1.15" fill="#ef4130"/>
<circle cx="126.16" cy="377.27" r="1.15" fill="#ef4130"/>
<circle cx="125.89" cy="379.32" r="1.15" fill="#ef4130"/>
<circle cx="126.08" cy="381.37" r="1.15" fill="#ef4130"/>
<circle cx="123.62" cy="399.80" r="1.15" fill="#ef4130"/>
<rect x="121.55" y="362.94" width="6.00" height="36.86" fill="none" stroke="#ef4130" stroke-width="1.05"/>
<line x1="124.55" y1="353.72" x2="124.55" y2="372.15" stroke="#ef4130" stroke-width="1.1" stroke-linecap="butt"/>
<line x1="122.75" y1="353.72" x2="126.35" y2="353.72" stroke="#ef4130" stroke-width="1.1" stroke-linecap="butt"/>
<line x1="122.75" y1="372.15" x2="126.35" y2="372.15" stroke="#ef4130" stroke-width="1.1" stroke-linecap="butt"/>
<circle cx="141.54" cy="384.44" r="1.15" fill="#2f62c2"/>
<circle cx="141.16" cy="393.66" r="1.15" fill="#2f62c2"/>
<circle cx="141.78" cy="394.68" r="1.15" fill="#2f62c2"/>
<circle cx="141.35" cy="398.49" r="1.15" fill="#2f62c2"/>
<circle cx="142.18" cy="398.72" r="1.15" fill="#2f62c2"/>
<circle cx="143.80" cy="396.31" r="1.15" fill="#2f62c2"/>
<circle cx="142.70" cy="395.93" r="1.15" fill="#2f62c2"/>
<circle cx="141.97" cy="399.45" r="1.15" fill="#2f62c2"/>
<circle cx="142.39" cy="399.37" r="1.15" fill="#2f62c2"/>
<circle cx="142.64" cy="399.19" r="1.15" fill="#2f62c2"/>
<circle cx="140.03" cy="399.18" r="1.15" fill="#2f62c2"/>
<circle cx="143.58" cy="398.20" r="1.15" fill="#2f62c2"/>
<circle cx="143.08" cy="397.74" r="1.15" fill="#2f62c2"/>
<rect x="138.90" y="397.75" width="6.00" height="2.05" fill="none" stroke="#2f62c2" stroke-width="1.05"/>
<line x1="141.90" y1="396.22" x2="141.90" y2="399.29" stroke="#2f62c2" stroke-width="1.1" stroke-linecap="butt"/>
<line x1="140.10" y1="396.22" x2="143.70" y2="396.22" stroke="#2f62c2" stroke-width="1.1" stroke-linecap="butt"/>
<line x1="140.10" y1="399.29" x2="143.70" y2="399.29" stroke="#2f62c2" stroke-width="1.1" stroke-linecap="butt"/>
<circle cx="152.06" cy="351.67" r="1.15" fill="#b07a45"/>
<circle cx="151.99" cy="354.74" r="1.15" fill="#b07a45"/>
<circle cx="151.83" cy="387.51" r="1.15" fill="#b07a45"/>
<circle cx="150.62" cy="388.54" r="1.15" fill="#b07a45"/>
<circle cx="150.40" cy="389.56" r="1.15" fill="#b07a45"/>
<circle cx="151.04" cy="392.06" r="1.15" fill="#b07a45"/>
<circle cx="150.83" cy="392.93" r="1.15" fill="#b07a45"/>
<circle cx="151.93" cy="397.07" r="1.15" fill="#b07a45"/>
<circle cx="150.51" cy="397.01" r="1.15" fill="#b07a45"/>
<circle cx="154.07" cy="399.32" r="1.15" fill="#b07a45"/>
<circle cx="152.98" cy="394.70" r="1.15" fill="#b07a45"/>
<circle cx="151.02" cy="399.55" r="1.15" fill="#b07a45"/>
<circle cx="151.46" cy="399.52" r="1.15" fill="#b07a45"/>
<rect x="149.50" y="391.81" width="6.00" height="7.99" fill="none" stroke="#b07a45" stroke-width="1.05"/>
<line x1="152.50" y1="387.51" x2="152.50" y2="395.70" stroke="#b07a45" stroke-width="1.1" stroke-linecap="butt"/>
<line x1="150.70" y1="387.51" x2="154.30" y2="387.51" stroke="#b07a45" stroke-width="1.1" stroke-linecap="butt"/>
<line x1="150.70" y1="395.70" x2="154.30" y2="395.70" stroke="#b07a45" stroke-width="1.1" stroke-linecap="butt"/>
<circle cx="163.84" cy="323.00" r="1.15" fill="#ef4130"/>
<circle cx="163.05" cy="330.17" r="1.15" fill="#ef4130"/>
<circle cx="163.08" cy="346.55" r="1.15" fill="#ef4130"/>
<circle cx="161.36" cy="363.96" r="1.15" fill="#ef4130"/>
<circle cx="161.43" cy="370.10" r="1.15" fill="#ef4130"/>
<circle cx="162.44" cy="372.15" r="1.15" fill="#ef4130"/>
<circle cx="162.11" cy="379.32" r="1.15" fill="#ef4130"/>
<circle cx="164.48" cy="383.42" r="1.15" fill="#ef4130"/>
<circle cx="161.68" cy="387.51" r="1.15" fill="#ef4130"/>
<circle cx="161.10" cy="391.61" r="1.15" fill="#ef4130"/>
<circle cx="164.99" cy="394.68" r="1.15" fill="#ef4130"/>
<circle cx="163.22" cy="396.73" r="1.15" fill="#ef4130"/>
<circle cx="161.62" cy="398.78" r="1.15" fill="#ef4130"/>
<circle cx="163.28" cy="394.62" r="1.15" fill="#ef4130"/>
<circle cx="161.11" cy="394.29" r="1.15" fill="#ef4130"/>
<circle cx="163.22" cy="398.46" r="1.15" fill="#ef4130"/>
<circle cx="165.11" cy="383.25" r="1.15" fill="#ef4130"/>
<rect x="160.10" y="375.22" width="6.00" height="24.58" fill="none" stroke="#ef4130" stroke-width="1.05"/>
<line x1="163.10" y1="369.08" x2="163.10" y2="381.37" stroke="#ef4130" stroke-width="1.1" stroke-linecap="butt"/>
<line x1="161.30" y1="369.08" x2="164.90" y2="369.08" stroke="#ef4130" stroke-width="1.1" stroke-linecap="butt"/>
<line x1="161.30" y1="381.37" x2="164.90" y2="381.37" stroke="#ef4130" stroke-width="1.1" stroke-linecap="butt"/>
<circle cx="181.88" cy="378.30" r="1.15" fill="#2f62c2"/>
<circle cx="182.41" cy="397.26" r="1.15" fill="#2f62c2"/>
<circle cx="180.25" cy="397.88" r="1.15" fill="#2f62c2"/>
<circle cx="181.47" cy="399.26" r="1.15" fill="#2f62c2"/>
<circle cx="180.79" cy="398.97" r="1.15" fill="#2f62c2"/>
<circle cx="179.42" cy="399.50" r="1.15" fill="#2f62c2"/>
<circle cx="179.42" cy="397.61" r="1.15" fill="#2f62c2"/>
<circle cx="180.47" cy="398.45" r="1.15" fill="#2f62c2"/>
<circle cx="180.39" cy="397.58" r="1.15" fill="#2f62c2"/>
<circle cx="182.21" cy="399.07" r="1.15" fill="#2f62c2"/>
<circle cx="183.32" cy="399.36" r="1.15" fill="#2f62c2"/>
<circle cx="181.18" cy="397.46" r="1.15" fill="#2f62c2"/>
<circle cx="183.24" cy="396.79" r="1.15" fill="#2f62c2"/>
<circle cx="183.45" cy="397.30" r="1.15" fill="#2f62c2"/>
<circle cx="183.31" cy="397.48" r="1.15" fill="#2f62c2"/>
<rect x="178.40" y="398.26" width="6.00" height="1.54" fill="none" stroke="#2f62c2" stroke-width="1.05"/>
<line x1="181.40" y1="397.24" x2="181.40" y2="399.29" stroke="#2f62c2" stroke-width="1.1" stroke-linecap="butt"/>
<line x1="179.60" y1="397.24" x2="183.20" y2="397.24" stroke="#2f62c2" stroke-width="1.1" stroke-linecap="butt"/>
<line x1="179.60" y1="399.29" x2="183.20" y2="399.29" stroke="#2f62c2" stroke-width="1.1" stroke-linecap="butt"/>
<circle cx="192.49" cy="356.79" r="1.15" fill="#b07a45"/>
<circle cx="192.86" cy="372.15" r="1.15" fill="#b07a45"/>
<circle cx="192.67" cy="374.20" r="1.15" fill="#b07a45"/>
<circle cx="192.63" cy="377.27" r="1.15" fill="#b07a45"/>
<circle cx="192.16" cy="381.37" r="1.15" fill="#b07a45"/>
<circle cx="190.90" cy="383.42" r="1.15" fill="#b07a45"/>
<circle cx="193.46" cy="395.66" r="1.15" fill="#b07a45"/>
<circle cx="191.55" cy="397.65" r="1.15" fill="#b07a45"/>
<circle cx="193.51" cy="397.57" r="1.15" fill="#b07a45"/>
<circle cx="194.23" cy="397.94" r="1.15" fill="#b07a45"/>
<circle cx="191.81" cy="397.85" r="1.15" fill="#b07a45"/>
<circle cx="191.84" cy="391.48" r="1.15" fill="#b07a45"/>
<circle cx="194.13" cy="386.40" r="1.15" fill="#b07a45"/>
<circle cx="193.19" cy="387.55" r="1.15" fill="#b07a45"/>
<circle cx="190.86" cy="393.89" r="1.15" fill="#b07a45"/>
<circle cx="190.68" cy="390.97" r="1.15" fill="#b07a45"/>
<circle cx="190.78" cy="388.31" r="1.15" fill="#b07a45"/>
<circle cx="193.95" cy="399.18" r="1.15" fill="#b07a45"/>
<rect x="189.25" y="388.54" width="6.00" height="11.26" fill="none" stroke="#b07a45" stroke-width="1.05"/>
<line x1="192.25" y1="385.46" x2="192.25" y2="391.61" stroke="#b07a45" stroke-width="1.1" stroke-linecap="butt"/>
<line x1="190.45" y1="385.46" x2="194.05" y2="385.46" stroke="#b07a45" stroke-width="1.1" stroke-linecap="butt"/>
<line x1="190.45" y1="391.61" x2="194.05" y2="391.61" stroke="#b07a45" stroke-width="1.1" stroke-linecap="butt"/>
<circle cx="203.62" cy="354.74" r="1.15" fill="#ef4130"/>
<circle cx="203.14" cy="356.79" r="1.15" fill="#ef4130"/>
<circle cx="202.68" cy="372.15" r="1.15" fill="#ef4130"/>
<circle cx="202.97" cy="373.18" r="1.15" fill="#ef4130"/>
<circle cx="201.35" cy="386.49" r="1.15" fill="#ef4130"/>
<circle cx="200.86" cy="389.56" r="1.15" fill="#ef4130"/>
<circle cx="204.88" cy="393.66" r="1.15" fill="#ef4130"/>
<circle cx="203.53" cy="397.75" r="1.15" fill="#ef4130"/>
<circle cx="203.01" cy="388.19" r="1.15" fill="#ef4130"/>
<circle cx="204.72" cy="398.54" r="1.15" fill="#ef4130"/>
<circle cx="202.62" cy="387.81" r="1.15" fill="#ef4130"/>
<rect x="199.90" y="387.51" width="6.00" height="12.29" fill="none" stroke="#ef4130" stroke-width="1.05"/>
<line x1="202.90" y1="382.39" x2="202.90" y2="392.63" stroke="#ef4130" stroke-width="1.1" stroke-linecap="butt"/>
<line x1="201.10" y1="382.39" x2="204.70" y2="382.39" stroke="#ef4130" stroke-width="1.1" stroke-linecap="butt"/>
<line x1="201.10" y1="392.63" x2="204.70" y2="392.63" stroke="#ef4130" stroke-width="1.1" stroke-linecap="butt"/>
<line x1="65.00" y1="325.75" x2="85.00" y2="325.75" stroke="#111" stroke-width="1.3" stroke-linecap="butt"/>
<text x="75.00" y="327.05" font-size="12" text-anchor="middle" fill="#1c1c1c">**</text>
<line x1="103.75" y1="325.25" x2="124.25" y2="325.25" stroke="#111" stroke-width="1.3" stroke-linecap="butt"/>
<text x="114.00" y="326.55" font-size="12" text-anchor="middle" fill="#1c1c1c">**</text>
<line x1="142.50" y1="345.00" x2="152.50" y2="345.00" stroke="#111" stroke-width="1.3" stroke-linecap="butt"/>
<text x="147.50" y="346.30" font-size="12" text-anchor="middle" fill="#1c1c1c">*</text>
<line x1="143.00" y1="311.25" x2="163.00" y2="311.25" stroke="#111" stroke-width="1.3" stroke-linecap="butt"/>
<text x="153.00" y="312.55" font-size="12" text-anchor="middle" fill="#1c1c1c">****</text>
<line x1="153.00" y1="318.75" x2="163.00" y2="318.75" stroke="#111" stroke-width="1.3" stroke-linecap="butt"/>
<text x="158.00" y="320.05" font-size="12" text-anchor="middle" fill="#1c1c1c">**</text>
<line x1="180.50" y1="345.50" x2="203.50" y2="345.50" stroke="#111" stroke-width="1.3" stroke-linecap="butt"/>
<text x="192.00" y="346.80" font-size="12" text-anchor="middle" fill="#1c1c1c">***</text>
<line x1="180.50" y1="354.25" x2="193.50" y2="354.25" stroke="#111" stroke-width="1.3" stroke-linecap="butt"/>
<text x="187.00" y="355.55" font-size="12" text-anchor="middle" fill="#1c1c1c">***</text>
<text x="75.70" y="407.90" font-size="8.6" text-anchor="end" fill="#1c1c1c" transform="rotate(-45 75.70 407.90)">Day 0</text>
<text x="116.50" y="407.90" font-size="8.6" text-anchor="end" fill="#1c1c1c" transform="rotate(-45 116.50 407.90)">Day 1</text>
<text x="157.70" y="407.90" font-size="8.6" text-anchor="end" fill="#1c1c1c" transform="rotate(-45 157.70 407.90)">Day 4</text>
<text x="197.90" y="406.50" font-size="8.6" text-anchor="end" fill="#1c1c1c" transform="rotate(-45 197.90 406.50)">Month 1</text>
<rect x="62.00" y="434.50" width="7.60" height="9.90" fill="#2a3470"/>
<text x="72.60" y="442.50" font-size="8.7" text-anchor="start" fill="#1c1c1c">Vagina</text>
<rect x="103.20" y="434.50" width="7.60" height="9.90" fill="#cd8a3a"/>
<text x="113.10" y="442.50" font-size="8.7" text-anchor="start" fill="#1c1c1c">Gut</text>
<rect x="136.00" y="434.50" width="7.60" height="9.90" fill="#7b2324"/>
<text x="146.40" y="442.50" font-size="8.7" text-anchor="start" fill="#1c1c1c">Skin</text>
<rect x="170.00" y="434.50" width="7.60" height="9.90" fill="#b9babc"/>
<text x="178.40" y="442.50" font-size="8.7" text-anchor="start" fill="#1c1c1c">Other</text>
<text x="225.60" y="355.30" font-size="8.75" text-anchor="middle" fill="#1c1c1c" transform="rotate(-90 225.60 355.30)">Rate of ASVs shared</text>
<text x="235.40" y="353.85" font-size="8.75" text-anchor="middle" fill="#1c1c1c" transform="rotate(-90 235.40 353.85)">between mothers and offspring (%)</text>
<line x1="254.30" y1="287.00" x2="254.30" y2="412.60" stroke="#444" stroke-width="1.2" stroke-linecap="butt"/>
<line x1="253.70" y1="412.00" x2="315.90" y2="412.00" stroke="#444" stroke-width="1.2" stroke-linecap="butt"/>
<line x1="252.80" y1="406.60" x2="254.30" y2="406.60" stroke="#444" stroke-width="0.8" stroke-linecap="butt"/>
<text transform="translate(252.30 409.60) scale(0.9 1)" font-size="8.3" text-anchor="end" fill="#1c1c1c">0</text>
<line x1="252.80" y1="378.08" x2="254.30" y2="378.08" stroke="#444" stroke-width="0.8" stroke-linecap="butt"/>
<text transform="translate(252.30 381.08) scale(0.9 1)" font-size="8.3" text-anchor="end" fill="#1c1c1c">25</text>
<line x1="252.80" y1="349.55" x2="254.30" y2="349.55" stroke="#444" stroke-width="0.8" stroke-linecap="butt"/>
<text transform="translate(252.30 352.55) scale(0.9 1)" font-size="8.3" text-anchor="end" fill="#1c1c1c">50</text>
<line x1="252.80" y1="321.02" x2="254.30" y2="321.02" stroke="#444" stroke-width="0.8" stroke-linecap="butt"/>
<text transform="translate(252.30 324.02) scale(0.9 1)" font-size="8.3" text-anchor="end" fill="#1c1c1c">75</text>
<line x1="252.80" y1="292.50" x2="254.30" y2="292.50" stroke="#444" stroke-width="0.8" stroke-linecap="butt"/>
<text transform="translate(252.30 295.50) scale(0.9 1)" font-size="8.3" text-anchor="end" fill="#1c1c1c">100</text>
<rect x="256.90" y="402.95" width="12.80" height="3.65" fill="#2a3470"/>
<rect x="256.90" y="394.05" width="12.80" height="8.90" fill="#cd8a3a"/>
<rect x="256.90" y="346.13" width="12.80" height="47.92" fill="#7b2324"/>
<rect x="256.90" y="292.50" width="12.80" height="53.63" fill="#b9babc"/>
<rect x="271.40" y="404.09" width="12.80" height="2.51" fill="#2a3470"/>
<rect x="271.40" y="394.05" width="12.80" height="10.04" fill="#cd8a3a"/>
<rect x="271.40" y="352.97" width="12.80" height="41.08" fill="#7b2324"/>
<rect x="271.40" y="292.50" width="12.80" height="60.47" fill="#b9babc"/>
<rect x="285.90" y="404.89" width="12.80" height="1.71" fill="#2a3470"/>
<rect x="285.90" y="395.76" width="12.80" height="9.13" fill="#cd8a3a"/>
<rect x="285.90" y="367.46" width="12.80" height="28.30" fill="#7b2324"/>
<rect x="285.90" y="292.50" width="12.80" height="74.96" fill="#b9babc"/>
<rect x="300.40" y="404.89" width="12.80" height="1.71" fill="#2a3470"/>
<rect x="300.40" y="394.05" width="12.80" height="10.84" fill="#cd8a3a"/>
<rect x="300.40" y="380.36" width="12.80" height="13.69" fill="#7b2324"/>
<rect x="300.40" y="292.50" width="12.80" height="87.86" fill="#b9babc"/>
<text x="265.90" y="420.50" font-size="8.6" text-anchor="end" fill="#1c1c1c" transform="rotate(-45 265.90 420.50)">Day 0</text>
<text x="280.50" y="420.00" font-size="8.6" text-anchor="end" fill="#1c1c1c" transform="rotate(-45 280.50 420.00)">Day 1</text>
<text x="295.10" y="420.50" font-size="8.6" text-anchor="end" fill="#1c1c1c" transform="rotate(-45 295.10 420.50)">Day 4</text>
<text x="309.70" y="421.50" font-size="8.6" text-anchor="end" fill="#1c1c1c" transform="rotate(-45 309.70 421.50)">Month 1</text>
<text x="360.40" y="354.55" font-size="8.75" text-anchor="middle" fill="#1c1c1c" transform="rotate(-90 360.40 354.55)">Relative abundance of ASVs shared</text>
<text x="370.30" y="353.30" font-size="8.75" text-anchor="middle" fill="#1c1c1c" transform="rotate(-90 370.30 353.30)">between mothers and offspring (%)</text>
<line x1="390.50" y1="296.80" x2="390.50" y2="401.30" stroke="#222" stroke-width="1.25" stroke-linecap="butt"/>
<line x1="389.90" y1="400.70" x2="546.50" y2="400.70" stroke="#444" stroke-width="1.6" stroke-linecap="butt"/>
<line x1="386.00" y1="400.70" x2="390.50" y2="400.70" stroke="#222" stroke-width="1.1" stroke-linecap="butt"/>
<text transform="translate(384.70 403.80) scale(0.95 1)" font-size="8.6" text-anchor="end" fill="#1c1c1c">0</text>
<line x1="386.00" y1="380.04" x2="390.50" y2="380.04" stroke="#222" stroke-width="1.1" stroke-linecap="butt"/>
<text transform="translate(384.70 383.14) scale(0.95 1)" font-size="8.6" text-anchor="end" fill="#1c1c1c">20</text>
<line x1="386.00" y1="359.38" x2="390.50" y2="359.38" stroke="#222" stroke-width="1.1" stroke-linecap="butt"/>
<text transform="translate(384.70 362.48) scale(0.95 1)" font-size="8.6" text-anchor="end" fill="#1c1c1c">40</text>
<line x1="386.00" y1="338.72" x2="390.50" y2="338.72" stroke="#222" stroke-width="1.1" stroke-linecap="butt"/>
<text transform="translate(384.70 341.82) scale(0.95 1)" font-size="8.6" text-anchor="end" fill="#1c1c1c">60</text>
<line x1="386.00" y1="318.06" x2="390.50" y2="318.06" stroke="#222" stroke-width="1.1" stroke-linecap="butt"/>
<text transform="translate(384.70 321.16) scale(0.95 1)" font-size="8.6" text-anchor="end" fill="#1c1c1c">80</text>
<line x1="386.00" y1="297.40" x2="390.50" y2="297.40" stroke="#222" stroke-width="1.1" stroke-linecap="butt"/>
<text transform="translate(385.50 300.50) scale(0.95 1)" font-size="8.6" text-anchor="end" fill="#1c1c1c">100</text>
<circle cx="396.71" cy="381.07" r="1.15" fill="#2f62c2"/>
<circle cx="397.22" cy="394.50" r="1.15" fill="#2f62c2"/>
<circle cx="398.25" cy="395.53" r="1.15" fill="#2f62c2"/>
<circle cx="397.20" cy="398.80" r="1.15" fill="#2f62c2"/>
<circle cx="398.35" cy="399.27" r="1.15" fill="#2f62c2"/>
<circle cx="395.96" cy="400.30" r="1.15" fill="#2f62c2"/>
<circle cx="396.30" cy="396.41" r="1.15" fill="#2f62c2"/>
<circle cx="395.77" cy="400.69" r="1.15" fill="#2f62c2"/>
<circle cx="397.43" cy="398.59" r="1.15" fill="#2f62c2"/>
<circle cx="399.18" cy="396.21" r="1.15" fill="#2f62c2"/>
<circle cx="397.78" cy="400.50" r="1.15" fill="#2f62c2"/>
<circle cx="398.55" cy="398.30" r="1.15" fill="#2f62c2"/>
<circle cx="396.91" cy="397.95" r="1.15" fill="#2f62c2"/>
<rect x="394.40" y="397.60" width="6.00" height="3.10" fill="none" stroke="#2f62c2" stroke-width="1.05"/>
<line x1="397.40" y1="396.05" x2="397.40" y2="399.15" stroke="#2f62c2" stroke-width="1.1" stroke-linecap="butt"/>
<line x1="395.60" y1="396.05" x2="399.20" y2="396.05" stroke="#2f62c2" stroke-width="1.1" stroke-linecap="butt"/>
<line x1="395.60" y1="399.15" x2="399.20" y2="399.15" stroke="#2f62c2" stroke-width="1.1" stroke-linecap="butt"/>
<circle cx="408.59" cy="369.71" r="1.15" fill="#b07a45"/>
<circle cx="408.13" cy="373.84" r="1.15" fill="#b07a45"/>
<circle cx="407.63" cy="373.84" r="1.15" fill="#b07a45"/>
<circle cx="407.27" cy="392.44" r="1.15" fill="#b07a45"/>
<circle cx="407.03" cy="395.53" r="1.15" fill="#b07a45"/>
<circle cx="407.33" cy="398.63" r="1.15" fill="#b07a45"/>
<circle cx="409.55" cy="400.70" r="1.15" fill="#b07a45"/>
<circle cx="406.99" cy="393.64" r="1.15" fill="#b07a45"/>
<circle cx="409.87" cy="400.17" r="1.15" fill="#b07a45"/>
<circle cx="409.84" cy="398.62" r="1.15" fill="#b07a45"/>
<circle cx="406.38" cy="394.51" r="1.15" fill="#b07a45"/>
<rect x="405.25" y="387.27" width="6.00" height="13.43" fill="none" stroke="#b07a45" stroke-width="1.05"/>
<line x1="408.25" y1="382.11" x2="408.25" y2="392.44" stroke="#b07a45" stroke-width="1.1" stroke-linecap="butt"/>
<line x1="406.45" y1="382.11" x2="410.05" y2="382.11" stroke="#b07a45" stroke-width="1.1" stroke-linecap="butt"/>
<line x1="406.45" y1="392.44" x2="410.05" y2="392.44" stroke="#b07a45" stroke-width="1.1" stroke-linecap="butt"/>
<circle cx="418.89" cy="307.73" r="1.15" fill="#ef4130"/>
<circle cx="419.37" cy="307.73" r="1.15" fill="#ef4130"/>
<circle cx="417.40" cy="311.86" r="1.15" fill="#ef4130"/>
<circle cx="419.08" cy="311.86" r="1.15" fill="#ef4130"/>
<circle cx="421.11" cy="383.14" r="1.15" fill="#ef4130"/>
<circle cx="417.77" cy="393.47" r="1.15" fill="#ef4130"/>
<rect x="416.40" y="337.69" width="6.00" height="63.01" fill="none" stroke="#ef4130" stroke-width="1.05"/>
<line x1="419.40" y1="320.13" x2="419.40" y2="353.18" stroke="#ef4130" stroke-width="1.1" stroke-linecap="butt"/>
<line x1="417.60" y1="320.13" x2="421.20" y2="320.13" stroke="#ef4130" stroke-width="1.1" stroke-linecap="butt"/>
<line x1="417.60" y1="353.18" x2="421.20" y2="353.18" stroke="#ef4130" stroke-width="1.1" stroke-linecap="butt"/>
<circle cx="436.88" cy="392.44" r="1.15" fill="#2f62c2"/>
<circle cx="436.85" cy="394.50" r="1.15" fill="#2f62c2"/>
<circle cx="437.58" cy="398.59" r="1.15" fill="#2f62c2"/>
<circle cx="435.29" cy="400.43" r="1.15" fill="#2f62c2"/>
<circle cx="437.34" cy="398.67" r="1.15" fill="#2f62c2"/>
<circle cx="435.62" cy="397.12" r="1.15" fill="#2f62c2"/>
<circle cx="437.46" cy="400.18" r="1.15" fill="#2f62c2"/>
<circle cx="438.92" cy="400.69" r="1.15" fill="#2f62c2"/>
<circle cx="435.13" cy="400.54" r="1.15" fill="#2f62c2"/>
<circle cx="437.23" cy="398.85" r="1.15" fill="#2f62c2"/>
<circle cx="437.45" cy="400.68" r="1.15" fill="#2f62c2"/>
<circle cx="435.53" cy="400.53" r="1.15" fill="#2f62c2"/>
<circle cx="436.03" cy="399.04" r="1.15" fill="#2f62c2"/>
<circle cx="439.08" cy="396.99" r="1.15" fill="#2f62c2"/>
<rect x="434.00" y="398.63" width="6.00" height="2.07" fill="none" stroke="#2f62c2" stroke-width="1.05"/>
<line x1="437.00" y1="397.08" x2="437.00" y2="400.18" stroke="#2f62c2" stroke-width="1.1" stroke-linecap="butt"/>
<line x1="435.20" y1="397.08" x2="438.80" y2="397.08" stroke="#2f62c2" stroke-width="1.1" stroke-linecap="butt"/>
<line x1="435.20" y1="400.18" x2="438.80" y2="400.18" stroke="#2f62c2" stroke-width="1.1" stroke-linecap="butt"/>
<circle cx="448.07" cy="309.80" r="1.15" fill="#b07a45"/>
<circle cx="447.21" cy="311.86" r="1.15" fill="#b07a45"/>
<circle cx="447.34" cy="359.38" r="1.15" fill="#b07a45"/>
<circle cx="448.63" cy="380.04" r="1.15" fill="#b07a45"/>
<circle cx="448.28" cy="385.20" r="1.15" fill="#b07a45"/>
<circle cx="449.05" cy="390.37" r="1.15" fill="#b07a45"/>
<circle cx="446.16" cy="395.53" r="1.15" fill="#b07a45"/>
<circle cx="447.26" cy="400.70" r="1.15" fill="#b07a45"/>
<circle cx="449.43" cy="385.25" r="1.15" fill="#b07a45"/>
<circle cx="448.25" cy="399.70" r="1.15" fill="#b07a45"/>
<circle cx="447.70" cy="390.86" r="1.15" fill="#b07a45"/>
<circle cx="447.49" cy="386.19" r="1.15" fill="#b07a45"/>
<circle cx="449.94" cy="398.32" r="1.15" fill="#b07a45"/>
<rect x="444.90" y="375.91" width="6.00" height="24.79" fill="none" stroke="#b07a45" stroke-width="1.05"/>
<line x1="447.90" y1="365.58" x2="447.90" y2="385.20" stroke="#b07a45" stroke-width="1.1" stroke-linecap="butt"/>
<line x1="446.10" y1="365.58" x2="449.70" y2="365.58" stroke="#b07a45" stroke-width="1.1" stroke-linecap="butt"/>
<line x1="446.10" y1="385.20" x2="449.70" y2="385.20" stroke="#b07a45" stroke-width="1.1" stroke-linecap="butt"/>
<circle cx="459.21" cy="307.73" r="1.15" fill="#ef4130"/>
<circle cx="458.38" cy="307.73" r="1.15" fill="#ef4130"/>
<circle cx="459.55" cy="307.73" r="1.15" fill="#ef4130"/>
<circle cx="458.84" cy="310.83" r="1.15" fill="#ef4130"/>
<circle cx="458.82" cy="376.94" r="1.15" fill="#ef4130"/>
<circle cx="457.90" cy="383.14" r="1.15" fill="#ef4130"/>
<circle cx="458.86" cy="392.44" r="1.15" fill="#ef4130"/>
<circle cx="458.36" cy="400.70" r="1.15" fill="#ef4130"/>
<rect x="456.10" y="349.05" width="6.00" height="51.65" fill="none" stroke="#ef4130" stroke-width="1.05"/>
<line x1="459.10" y1="335.62" x2="459.10" y2="361.45" stroke="#ef4130" stroke-width="1.1" stroke-linecap="butt"/>
<line x1="457.30" y1="335.62" x2="460.90" y2="335.62" stroke="#ef4130" stroke-width="1.1" stroke-linecap="butt"/>
<line x1="457.30" y1="361.45" x2="460.90" y2="361.45" stroke="#ef4130" stroke-width="1.1" stroke-linecap="butt"/>
<circle cx="476.96" cy="397.60" r="1.15" fill="#2f62c2"/>
<circle cx="476.29" cy="400.61" r="1.15" fill="#2f62c2"/>
<circle cx="475.47" cy="399.57" r="1.15" fill="#2f62c2"/>
<circle cx="478.55" cy="400.59" r="1.15" fill="#2f62c2"/>
<circle cx="476.18" cy="399.19" r="1.15" fill="#2f62c2"/>
<circle cx="476.07" cy="400.68" r="1.15" fill="#2f62c2"/>
<circle cx="478.11" cy="399.20" r="1.15" fill="#2f62c2"/>
<circle cx="476.05" cy="399.14" r="1.15" fill="#2f62c2"/>
<circle cx="477.30" cy="399.87" r="1.15" fill="#2f62c2"/>
<circle cx="475.22" cy="399.38" r="1.15" fill="#2f62c2"/>
<circle cx="478.04" cy="400.36" r="1.15" fill="#2f62c2"/>
<rect x="473.60" y="399.87" width="6.00" height="0.83" fill="none" stroke="#2f62c2" stroke-width="1.05"/>
<line x1="476.60" y1="399.15" x2="476.60" y2="400.49" stroke="#2f62c2" stroke-width="1.1" stroke-linecap="butt"/>
<line x1="474.80" y1="399.15" x2="478.40" y2="399.15" stroke="#2f62c2" stroke-width="1.1" stroke-linecap="butt"/>
<line x1="474.80" y1="400.49" x2="478.40" y2="400.49" stroke="#2f62c2" stroke-width="1.1" stroke-linecap="butt"/>
<circle cx="488.57" cy="300.50" r="1.15" fill="#b07a45"/>
<circle cx="488.63" cy="305.66" r="1.15" fill="#b07a45"/>
<circle cx="488.06" cy="321.16" r="1.15" fill="#b07a45"/>
<circle cx="485.85" cy="354.21" r="1.15" fill="#b07a45"/>
<circle cx="486.06" cy="355.25" r="1.15" fill="#b07a45"/>
<circle cx="486.68" cy="368.68" r="1.15" fill="#b07a45"/>
<circle cx="487.43" cy="380.04" r="1.15" fill="#b07a45"/>
<circle cx="488.37" cy="385.20" r="1.15" fill="#b07a45"/>
<circle cx="489.86" cy="388.30" r="1.15" fill="#b07a45"/>
<circle cx="487.29" cy="392.44" r="1.15" fill="#b07a45"/>
<circle cx="486.39" cy="397.60" r="1.15" fill="#b07a45"/>
<circle cx="488.16" cy="400.70" r="1.15" fill="#b07a45"/>
<circle cx="486.38" cy="397.13" r="1.15" fill="#b07a45"/>
<circle cx="486.16" cy="400.27" r="1.15" fill="#b07a45"/>
<circle cx="488.14" cy="380.70" r="1.15" fill="#b07a45"/>
<circle cx="488.72" cy="398.59" r="1.15" fill="#b07a45"/>
<rect x="484.90" y="371.78" width="6.00" height="28.92" fill="none" stroke="#b07a45" stroke-width="1.05"/>
<line x1="487.90" y1="363.51" x2="487.90" y2="380.04" stroke="#b07a45" stroke-width="1.1" stroke-linecap="butt"/>
<line x1="486.10" y1="363.51" x2="489.70" y2="363.51" stroke="#b07a45" stroke-width="1.1" stroke-linecap="butt"/>
<line x1="486.10" y1="380.04" x2="489.70" y2="380.04" stroke="#b07a45" stroke-width="1.1" stroke-linecap="butt"/>
<circle cx="498.56" cy="299.47" r="1.15" fill="#ef4130"/>
<circle cx="498.65" cy="299.47" r="1.15" fill="#ef4130"/>
<circle cx="498.07" cy="307.73" r="1.15" fill="#ef4130"/>
<circle cx="498.83" cy="317.03" r="1.15" fill="#ef4130"/>
<circle cx="497.75" cy="325.29" r="1.15" fill="#ef4130"/>
<circle cx="499.15" cy="366.61" r="1.15" fill="#ef4130"/>
<circle cx="499.39" cy="371.78" r="1.15" fill="#ef4130"/>
<circle cx="499.85" cy="380.04" r="1.15" fill="#ef4130"/>
<circle cx="498.23" cy="392.44" r="1.15" fill="#ef4130"/>
<circle cx="496.57" cy="393.47" r="1.15" fill="#ef4130"/>
<circle cx="496.35" cy="395.53" r="1.15" fill="#ef4130"/>
<circle cx="498.37" cy="398.63" r="1.15" fill="#ef4130"/>
<circle cx="496.88" cy="400.70" r="1.15" fill="#ef4130"/>
<circle cx="498.79" cy="400.40" r="1.15" fill="#ef4130"/>
<circle cx="496.50" cy="397.03" r="1.15" fill="#ef4130"/>
<rect x="495.25" y="363.51" width="6.00" height="37.19" fill="none" stroke="#ef4130" stroke-width="1.05"/>
<line x1="498.25" y1="354.21" x2="498.25" y2="371.78" stroke="#ef4130" stroke-width="1.1" stroke-linecap="butt"/>
<line x1="496.45" y1="354.21" x2="500.05" y2="354.21" stroke="#ef4130" stroke-width="1.1" stroke-linecap="butt"/>
<line x1="496.45" y1="371.78" x2="500.05" y2="371.78" stroke="#ef4130" stroke-width="1.1" stroke-linecap="butt"/>
<circle cx="515.79" cy="393.47" r="1.15" fill="#2f62c2"/>
<circle cx="518.57" cy="398.46" r="1.15" fill="#2f62c2"/>
<circle cx="518.13" cy="400.26" r="1.15" fill="#2f62c2"/>
<circle cx="516.69" cy="400.69" r="1.15" fill="#2f62c2"/>
<circle cx="516.60" cy="400.38" r="1.15" fill="#2f62c2"/>
<circle cx="516.66" cy="399.58" r="1.15" fill="#2f62c2"/>
<circle cx="518.22" cy="399.24" r="1.15" fill="#2f62c2"/>
<circle cx="514.68" cy="399.79" r="1.15" fill="#2f62c2"/>
<circle cx="517.10" cy="400.38" r="1.15" fill="#2f62c2"/>
<circle cx="516.68" cy="399.50" r="1.15" fill="#2f62c2"/>
<circle cx="515.66" cy="397.82" r="1.15" fill="#2f62c2"/>
<circle cx="517.44" cy="399.32" r="1.15" fill="#2f62c2"/>
<circle cx="517.43" cy="397.84" r="1.15" fill="#2f62c2"/>
<rect x="513.50" y="399.15" width="6.00" height="1.55" fill="none" stroke="#2f62c2" stroke-width="1.05"/>
<line x1="516.50" y1="398.12" x2="516.50" y2="400.18" stroke="#2f62c2" stroke-width="1.1" stroke-linecap="butt"/>
<line x1="514.70" y1="398.12" x2="518.30" y2="398.12" stroke="#2f62c2" stroke-width="1.1" stroke-linecap="butt"/>
<line x1="514.70" y1="400.18" x2="518.30" y2="400.18" stroke="#2f62c2" stroke-width="1.1" stroke-linecap="butt"/>
<circle cx="528.48" cy="315.99" r="1.15" fill="#b07a45"/>
<circle cx="528.34" cy="354.21" r="1.15" fill="#b07a45"/>
<circle cx="528.19" cy="357.31" r="1.15" fill="#b07a45"/>
<circle cx="528.56" cy="359.38" r="1.15" fill="#b07a45"/>
<circle cx="527.30" cy="366.61" r="1.15" fill="#b07a45"/>
<circle cx="528.41" cy="369.71" r="1.15" fill="#b07a45"/>
<circle cx="528.48" cy="374.88" r="1.15" fill="#b07a45"/>
<circle cx="528.75" cy="399.62" r="1.15" fill="#b07a45"/>
<circle cx="527.61" cy="387.72" r="1.15" fill="#b07a45"/>
<circle cx="526.19" cy="393.31" r="1.15" fill="#b07a45"/>
<circle cx="526.69" cy="392.52" r="1.15" fill="#b07a45"/>
<circle cx="528.45" cy="389.21" r="1.15" fill="#b07a45"/>
<circle cx="526.66" cy="400.25" r="1.15" fill="#b07a45"/>
<circle cx="526.17" cy="390.00" r="1.15" fill="#b07a45"/>
<circle cx="527.39" cy="394.96" r="1.15" fill="#b07a45"/>
<circle cx="527.88" cy="383.24" r="1.15" fill="#b07a45"/>
<circle cx="528.15" cy="397.62" r="1.15" fill="#b07a45"/>
<rect x="525.00" y="381.07" width="6.00" height="19.63" fill="none" stroke="#b07a45" stroke-width="1.05"/>
<line x1="528.00" y1="374.88" x2="528.00" y2="387.27" stroke="#b07a45" stroke-width="1.1" stroke-linecap="butt"/>
<line x1="526.20" y1="374.88" x2="529.80" y2="374.88" stroke="#b07a45" stroke-width="1.1" stroke-linecap="butt"/>
<line x1="526.20" y1="387.27" x2="529.80" y2="387.27" stroke="#b07a45" stroke-width="1.1" stroke-linecap="butt"/>
<circle cx="537.66" cy="328.39" r="1.15" fill="#ef4130"/>
<circle cx="539.08" cy="346.98" r="1.15" fill="#ef4130"/>
<circle cx="538.54" cy="368.68" r="1.15" fill="#ef4130"/>
<circle cx="539.11" cy="374.88" r="1.15" fill="#ef4130"/>
<circle cx="540.44" cy="385.20" r="1.15" fill="#ef4130"/>
<circle cx="539.80" cy="392.44" r="1.15" fill="#ef4130"/>
<circle cx="536.75" cy="396.57" r="1.15" fill="#ef4130"/>
<circle cx="537.76" cy="400.61" r="1.15" fill="#ef4130"/>
<circle cx="537.27" cy="393.28" r="1.15" fill="#ef4130"/>
<circle cx="539.58" cy="398.22" r="1.15" fill="#ef4130"/>
<circle cx="537.11" cy="393.19" r="1.15" fill="#ef4130"/>
<rect x="535.40" y="388.30" width="6.00" height="12.40" fill="none" stroke="#ef4130" stroke-width="1.05"/>
<line x1="538.40" y1="381.07" x2="538.40" y2="395.53" stroke="#ef4130" stroke-width="1.1" stroke-linecap="butt"/>
<line x1="536.60" y1="381.07" x2="540.20" y2="381.07" stroke="#ef4130" stroke-width="1.1" stroke-linecap="butt"/>
<line x1="536.60" y1="395.53" x2="540.20" y2="395.53" stroke="#ef4130" stroke-width="1.1" stroke-linecap="butt"/>
<line x1="397.00" y1="302.50" x2="419.50" y2="302.50" stroke="#111" stroke-width="1.3" stroke-linecap="butt"/>
<text x="408.25" y="303.80" font-size="12" text-anchor="middle" fill="#1c1c1c">***</text>
<line x1="437.00" y1="294.25" x2="457.00" y2="294.25" stroke="#111" stroke-width="1.3" stroke-linecap="butt"/>
<text x="447.00" y="295.55" font-size="12" text-anchor="middle" fill="#1c1c1c">**</text>
<line x1="437.50" y1="302.00" x2="447.50" y2="302.00" stroke="#111" stroke-width="1.3" stroke-linecap="butt"/>
<text x="442.50" y="303.30" font-size="12" text-anchor="middle" fill="#1c1c1c">*</text>
<line x1="478.25" y1="288.25" x2="498.75" y2="288.25" stroke="#111" stroke-width="1.3" stroke-linecap="butt"/>
<text x="488.50" y="289.55" font-size="12" text-anchor="middle" fill="#1c1c1c">****</text>
<line x1="474.50" y1="297.00" x2="489.50" y2="297.00" stroke="#111" stroke-width="1.3" stroke-linecap="butt"/>
<text x="482.00" y="298.30" font-size="12" text-anchor="middle" fill="#1c1c1c">****</text>
<line x1="525.50" y1="299.75" x2="536.00" y2="299.75" stroke="#111" stroke-width="1.3" stroke-linecap="butt"/>
<text x="530.75" y="301.05" font-size="12" text-anchor="middle" fill="#1c1c1c">**</text>
<line x1="518.00" y1="310.00" x2="528.50" y2="310.00" stroke="#111" stroke-width="1.3" stroke-linecap="butt"/>
<text x="523.25" y="311.30" font-size="12" text-anchor="middle" fill="#1c1c1c">****</text>
<text x="411.00" y="410.50" font-size="8.6" text-anchor="end" fill="#1c1c1c" transform="rotate(-45 411.00 410.50)">Day 0</text>
<text x="451.20" y="410.00" font-size="8.6" text-anchor="end" fill="#1c1c1c" transform="rotate(-45 451.20 410.00)">Day 1</text>
<text x="492.60" y="410.50" font-size="8.6" text-anchor="end" fill="#1c1c1c" transform="rotate(-45 492.60 410.50)">Day 4</text>
<text x="533.00" y="409.20" font-size="8.6" text-anchor="end" fill="#1c1c1c" transform="rotate(-45 533.00 409.20)">Month 1</text>
<rect x="398.20" y="434.50" width="7.60" height="9.90" fill="#2a3470"/>
<text x="408.80" y="442.50" font-size="8.7" text-anchor="start" fill="#1c1c1c">Vagina</text>
<rect x="439.50" y="434.50" width="7.60" height="9.90" fill="#cd8a3a"/>
<text x="449.40" y="442.50" font-size="8.7" text-anchor="start" fill="#1c1c1c">Gut</text>
<rect x="472.50" y="434.50" width="7.60" height="9.90" fill="#7b2324"/>
<text x="482.90" y="442.50" font-size="8.7" text-anchor="start" fill="#1c1c1c">Skin</text>
<rect x="506.50" y="434.50" width="7.60" height="9.90" fill="#b9babc"/>
<text x="514.90" y="442.50" font-size="8.7" text-anchor="start" fill="#1c1c1c">Other</text>
<text x="564.10" y="356.40" font-size="8.75" text-anchor="middle" fill="#1c1c1c" transform="rotate(-90 564.10 356.40)">Relative abundance of ASVs shared</text>
<text x="574.10" y="355.10" font-size="8.75" text-anchor="middle" fill="#1c1c1c" transform="rotate(-90 574.10 355.10)">between mothers and offspring (%)</text>
<line x1="591.70" y1="281.30" x2="591.70" y2="406.95" stroke="#444" stroke-width="1.2" stroke-linecap="butt"/>
<line x1="591.10" y1="406.35" x2="655.50" y2="406.35" stroke="#444" stroke-width="1.2" stroke-linecap="butt"/>
<line x1="590.20" y1="400.90" x2="591.70" y2="400.90" stroke="#444" stroke-width="0.8" stroke-linecap="butt"/>
<text transform="translate(589.70 403.90) scale(0.9 1)" font-size="8.3" text-anchor="end" fill="#1c1c1c">0</text>
<line x1="590.20" y1="372.42" x2="591.70" y2="372.42" stroke="#444" stroke-width="0.8" stroke-linecap="butt"/>
<text transform="translate(589.70 375.42) scale(0.9 1)" font-size="8.3" text-anchor="end" fill="#1c1c1c">25</text>
<line x1="590.20" y1="343.95" x2="591.70" y2="343.95" stroke="#444" stroke-width="0.8" stroke-linecap="butt"/>
<text transform="translate(589.70 346.95) scale(0.9 1)" font-size="8.3" text-anchor="end" fill="#1c1c1c">50</text>
<line x1="590.20" y1="315.48" x2="591.70" y2="315.48" stroke="#444" stroke-width="0.8" stroke-linecap="butt"/>
<text transform="translate(589.70 318.48) scale(0.9 1)" font-size="8.3" text-anchor="end" fill="#1c1c1c">75</text>
<line x1="590.20" y1="287.00" x2="591.70" y2="287.00" stroke="#444" stroke-width="0.8" stroke-linecap="butt"/>
<text transform="translate(589.70 290.00) scale(0.9 1)" font-size="8.3" text-anchor="end" fill="#1c1c1c">100</text>
<rect x="593.70" y="397.03" width="13.70" height="3.87" fill="#2a3470"/>
<rect x="593.70" y="383.13" width="13.70" height="13.90" fill="#cd8a3a"/>
<rect x="593.70" y="311.03" width="13.70" height="72.10" fill="#7b2324"/>
<rect x="593.70" y="287.00" width="13.70" height="24.03" fill="#b9babc"/>
<rect x="609.10" y="399.08" width="13.70" height="1.82" fill="#2a3470"/>
<rect x="609.10" y="370.26" width="13.70" height="28.82" fill="#cd8a3a"/>
<rect x="609.10" y="312.29" width="13.70" height="57.98" fill="#7b2324"/>
<rect x="609.10" y="287.00" width="13.70" height="25.29" fill="#b9babc"/>
<rect x="624.50" y="400.56" width="13.70" height="0.34" fill="#2a3470"/>
<rect x="624.50" y="367.53" width="13.70" height="33.03" fill="#cd8a3a"/>
<rect x="624.50" y="322.99" width="13.70" height="44.53" fill="#7b2324"/>
<rect x="624.50" y="287.00" width="13.70" height="35.99" fill="#b9babc"/>
<rect x="639.90" y="400.44" width="13.70" height="0.46" fill="#2a3470"/>
<rect x="639.90" y="377.66" width="13.70" height="22.78" fill="#cd8a3a"/>
<rect x="639.90" y="362.29" width="13.70" height="15.38" fill="#7b2324"/>
<rect x="639.90" y="287.00" width="13.70" height="75.29" fill="#b9babc"/>
<text x="606.20" y="415.70" font-size="8.6" text-anchor="end" fill="#1c1c1c" transform="rotate(-45 606.20 415.70)">Day 0</text>
<text x="619.90" y="415.70" font-size="8.6" text-anchor="end" fill="#1c1c1c" transform="rotate(-45 619.90 415.70)">Day 1</text>
<text x="634.80" y="415.70" font-size="8.6" text-anchor="end" fill="#1c1c1c" transform="rotate(-45 634.80 415.70)">Day 4</text>
<text x="649.50" y="415.70" font-size="8.6" text-anchor="end" fill="#1c1c1c" transform="rotate(-45 649.50 415.70)">Month 1</text>
<text x="21.10" y="580.45" font-size="8.75" text-anchor="middle" fill="#1c1c1c" transform="rotate(-90 21.10 580.45)">Rate of ASVs shared</text>
<text x="31.00" y="579.00" font-size="8.75" text-anchor="middle" fill="#1c1c1c" transform="rotate(-90 31.00 579.00)">between mothers and offspring (%)</text>
<line x1="52.50" y1="541.20" x2="52.50" y2="622.90" stroke="#222" stroke-width="1.25" stroke-linecap="butt"/>
<line x1="51.90" y1="622.30" x2="173.00" y2="622.30" stroke="#444" stroke-width="1.6" stroke-linecap="butt"/>
<line x1="48.00" y1="622.30" x2="52.50" y2="622.30" stroke="#222" stroke-width="1.1" stroke-linecap="butt"/>
<text transform="translate(46.80 625.40) scale(0.95 1)" font-size="8.6" text-anchor="end" fill="#1c1c1c">0</text>
<line x1="48.00" y1="606.20" x2="52.50" y2="606.20" stroke="#222" stroke-width="1.1" stroke-linecap="butt"/>
<text transform="translate(46.80 609.30) scale(0.95 1)" font-size="8.6" text-anchor="end" fill="#1c1c1c">20</text>
<line x1="48.00" y1="590.10" x2="52.50" y2="590.10" stroke="#222" stroke-width="1.1" stroke-linecap="butt"/>
<text transform="translate(46.80 593.20) scale(0.95 1)" font-size="8.6" text-anchor="end" fill="#1c1c1c">40</text>
<line x1="48.00" y1="574.00" x2="52.50" y2="574.00" stroke="#222" stroke-width="1.1" stroke-linecap="butt"/>
<text transform="translate(46.80 577.10) scale(0.95 1)" font-size="8.6" text-anchor="end" fill="#1c1c1c">60</text>
<line x1="48.00" y1="557.90" x2="52.50" y2="557.90" stroke="#222" stroke-width="1.1" stroke-linecap="butt"/>
<text transform="translate(46.80 561.00) scale(0.95 1)" font-size="8.6" text-anchor="end" fill="#1c1c1c">80</text>
<line x1="48.00" y1="541.80" x2="52.50" y2="541.80" stroke="#222" stroke-width="1.1" stroke-linecap="butt"/>
<text transform="translate(47.60 544.90) scale(0.95 1)" font-size="8.6" text-anchor="end" fill="#1c1c1c">100</text>
<circle cx="60.31" cy="599.76" r="1.15" fill="#2f62c2"/>
<circle cx="61.45" cy="611.83" r="1.15" fill="#2f62c2"/>
<circle cx="58.22" cy="612.64" r="1.15" fill="#2f62c2"/>
<circle cx="59.19" cy="614.25" r="1.15" fill="#2f62c2"/>
<circle cx="58.21" cy="615.05" r="1.15" fill="#2f62c2"/>
<circle cx="61.53" cy="619.43" r="1.15" fill="#2f62c2"/>
<circle cx="60.99" cy="618.51" r="1.15" fill="#2f62c2"/>
<circle cx="57.98" cy="615.03" r="1.15" fill="#2f62c2"/>
<circle cx="62.33" cy="619.32" r="1.15" fill="#2f62c2"/>
<circle cx="62.25" cy="618.96" r="1.15" fill="#2f62c2"/>
<circle cx="60.81" cy="618.27" r="1.15" fill="#2f62c2"/>
<circle cx="60.63" cy="621.40" r="1.15" fill="#2f62c2"/>
<circle cx="58.52" cy="618.93" r="1.15" fill="#2f62c2"/>
<rect x="56.80" y="614.25" width="6.60" height="8.05" fill="none" stroke="#2f62c2" stroke-width="1.05"/>
<line x1="60.10" y1="611.83" x2="60.10" y2="616.66" stroke="#2f62c2" stroke-width="1.1" stroke-linecap="butt"/>
<line x1="58.12" y1="611.83" x2="62.08" y2="611.83" stroke="#2f62c2" stroke-width="1.1" stroke-linecap="butt"/>
<line x1="58.12" y1="616.66" x2="62.08" y2="616.66" stroke="#2f62c2" stroke-width="1.1" stroke-linecap="butt"/>
<circle cx="72.47" cy="606.20" r="1.15" fill="#ef4130"/>
<circle cx="71.93" cy="606.20" r="1.15" fill="#ef4130"/>
<circle cx="72.55" cy="622.27" r="1.15" fill="#ef4130"/>
<circle cx="71.90" cy="618.79" r="1.15" fill="#ef4130"/>
<circle cx="72.65" cy="622.09" r="1.15" fill="#ef4130"/>
<circle cx="71.70" cy="621.37" r="1.15" fill="#ef4130"/>
<circle cx="70.88" cy="621.03" r="1.15" fill="#ef4130"/>
<circle cx="74.20" cy="622.22" r="1.15" fill="#ef4130"/>
<circle cx="74.19" cy="619.33" r="1.15" fill="#ef4130"/>
<circle cx="73.47" cy="619.53" r="1.15" fill="#ef4130"/>
<rect x="68.60" y="614.25" width="6.60" height="8.05" fill="none" stroke="#ef4130" stroke-width="1.05"/>
<line x1="71.90" y1="611.83" x2="71.90" y2="616.66" stroke="#ef4130" stroke-width="1.1" stroke-linecap="butt"/>
<line x1="69.92" y1="611.83" x2="73.88" y2="611.83" stroke="#ef4130" stroke-width="1.1" stroke-linecap="butt"/>
<line x1="69.92" y1="616.66" x2="73.88" y2="616.66" stroke="#ef4130" stroke-width="1.1" stroke-linecap="butt"/>
<circle cx="91.77" cy="594.93" r="1.15" fill="#2f62c2"/>
<circle cx="90.38" cy="606.20" r="1.15" fill="#2f62c2"/>
<circle cx="89.86" cy="611.03" r="1.15" fill="#2f62c2"/>
<circle cx="93.10" cy="612.64" r="1.15" fill="#2f62c2"/>
<circle cx="91.06" cy="617.68" r="1.15" fill="#2f62c2"/>
<circle cx="93.42" cy="620.68" r="1.15" fill="#2f62c2"/>
<circle cx="90.73" cy="621.23" r="1.15" fill="#2f62c2"/>
<circle cx="89.23" cy="620.86" r="1.15" fill="#2f62c2"/>
<circle cx="91.80" cy="622.07" r="1.15" fill="#2f62c2"/>
<circle cx="92.49" cy="617.17" r="1.15" fill="#2f62c2"/>
<circle cx="90.14" cy="620.10" r="1.15" fill="#2f62c2"/>
<circle cx="89.29" cy="616.47" r="1.15" fill="#2f62c2"/>
<circle cx="90.43" cy="620.19" r="1.15" fill="#2f62c2"/>
<circle cx="93.34" cy="615.45" r="1.15" fill="#2f62c2"/>
<rect x="87.90" y="615.46" width="6.60" height="6.84" fill="none" stroke="#2f62c2" stroke-width="1.05"/>
<line x1="91.20" y1="613.04" x2="91.20" y2="617.87" stroke="#2f62c2" stroke-width="1.1" stroke-linecap="butt"/>
<line x1="89.22" y1="613.04" x2="93.18" y2="613.04" stroke="#2f62c2" stroke-width="1.1" stroke-linecap="butt"/>
<line x1="89.22" y1="617.87" x2="93.18" y2="617.87" stroke="#2f62c2" stroke-width="1.1" stroke-linecap="butt"/>
<circle cx="102.91" cy="597.34" r="1.15" fill="#ef4130"/>
<circle cx="102.49" cy="604.59" r="1.15" fill="#ef4130"/>
<circle cx="103.38" cy="607.81" r="1.15" fill="#ef4130"/>
<circle cx="101.30" cy="616.68" r="1.15" fill="#ef4130"/>
<circle cx="103.66" cy="621.80" r="1.15" fill="#ef4130"/>
<circle cx="101.23" cy="621.00" r="1.15" fill="#ef4130"/>
<circle cx="102.63" cy="621.89" r="1.15" fill="#ef4130"/>
<circle cx="101.67" cy="622.09" r="1.15" fill="#ef4130"/>
<circle cx="101.94" cy="616.31" r="1.15" fill="#ef4130"/>
<circle cx="105.18" cy="621.45" r="1.15" fill="#ef4130"/>
<circle cx="104.40" cy="618.52" r="1.15" fill="#ef4130"/>
<rect x="99.70" y="614.25" width="6.60" height="8.05" fill="none" stroke="#ef4130" stroke-width="1.05"/>
<line x1="103.00" y1="611.83" x2="103.00" y2="616.66" stroke="#ef4130" stroke-width="1.1" stroke-linecap="butt"/>
<line x1="101.02" y1="611.83" x2="104.98" y2="611.83" stroke="#ef4130" stroke-width="1.1" stroke-linecap="butt"/>
<line x1="101.02" y1="616.66" x2="104.98" y2="616.66" stroke="#ef4130" stroke-width="1.1" stroke-linecap="butt"/>
<circle cx="121.76" cy="590.90" r="1.15" fill="#2f62c2"/>
<circle cx="121.40" cy="594.12" r="1.15" fill="#2f62c2"/>
<circle cx="121.42" cy="599.76" r="1.15" fill="#2f62c2"/>
<circle cx="122.24" cy="600.16" r="1.15" fill="#2f62c2"/>
<circle cx="120.91" cy="610.22" r="1.15" fill="#2f62c2"/>
<circle cx="122.57" cy="612.64" r="1.15" fill="#2f62c2"/>
<circle cx="121.51" cy="619.90" r="1.15" fill="#2f62c2"/>
<circle cx="121.88" cy="612.69" r="1.15" fill="#2f62c2"/>
<circle cx="124.22" cy="620.81" r="1.15" fill="#2f62c2"/>
<circle cx="122.02" cy="618.94" r="1.15" fill="#2f62c2"/>
<circle cx="122.44" cy="613.12" r="1.15" fill="#2f62c2"/>
<circle cx="123.79" cy="615.97" r="1.15" fill="#2f62c2"/>
<circle cx="120.63" cy="621.73" r="1.15" fill="#2f62c2"/>
<circle cx="120.50" cy="611.19" r="1.15" fill="#2f62c2"/>
<circle cx="123.99" cy="620.79" r="1.15" fill="#2f62c2"/>
<circle cx="123.57" cy="620.36" r="1.15" fill="#2f62c2"/>
<circle cx="120.94" cy="614.24" r="1.15" fill="#2f62c2"/>
<circle cx="120.67" cy="619.64" r="1.15" fill="#2f62c2"/>
<rect x="118.80" y="613.85" width="6.60" height="8.45" fill="none" stroke="#2f62c2" stroke-width="1.05"/>
<line x1="122.10" y1="610.22" x2="122.10" y2="617.47" stroke="#2f62c2" stroke-width="1.1" stroke-linecap="butt"/>
<line x1="120.12" y1="610.22" x2="124.08" y2="610.22" stroke="#2f62c2" stroke-width="1.1" stroke-linecap="butt"/>
<line x1="120.12" y1="617.47" x2="124.08" y2="617.47" stroke="#2f62c2" stroke-width="1.1" stroke-linecap="butt"/>
<circle cx="133.47" cy="583.66" r="1.15" fill="#ef4130"/>
<circle cx="134.24" cy="586.07" r="1.15" fill="#ef4130"/>
<circle cx="132.78" cy="612.64" r="1.15" fill="#ef4130"/>
<circle cx="135.40" cy="614.25" r="1.15" fill="#ef4130"/>
<circle cx="134.35" cy="616.86" r="1.15" fill="#ef4130"/>
<circle cx="132.95" cy="614.87" r="1.15" fill="#ef4130"/>
<circle cx="132.40" cy="621.33" r="1.15" fill="#ef4130"/>
<circle cx="134.92" cy="614.77" r="1.15" fill="#ef4130"/>
<circle cx="131.91" cy="615.46" r="1.15" fill="#ef4130"/>
<circle cx="132.65" cy="618.12" r="1.15" fill="#ef4130"/>
<circle cx="134.17" cy="619.68" r="1.15" fill="#ef4130"/>
<circle cx="135.53" cy="621.88" r="1.15" fill="#ef4130"/>
<circle cx="134.43" cy="622.18" r="1.15" fill="#ef4130"/>
<circle cx="132.88" cy="614.64" r="1.15" fill="#ef4130"/>
<rect x="130.60" y="615.86" width="6.60" height="6.44" fill="none" stroke="#ef4130" stroke-width="1.05"/>
<line x1="133.90" y1="612.64" x2="133.90" y2="619.08" stroke="#ef4130" stroke-width="1.1" stroke-linecap="butt"/>
<line x1="131.92" y1="612.64" x2="135.88" y2="612.64" stroke="#ef4130" stroke-width="1.1" stroke-linecap="butt"/>
<line x1="131.92" y1="619.08" x2="135.88" y2="619.08" stroke="#ef4130" stroke-width="1.1" stroke-linecap="butt"/>
<circle cx="153.74" cy="594.53" r="1.15" fill="#2f62c2"/>
<circle cx="153.21" cy="595.73" r="1.15" fill="#2f62c2"/>
<circle cx="153.27" cy="599.76" r="1.15" fill="#2f62c2"/>
<circle cx="153.09" cy="600.56" r="1.15" fill="#2f62c2"/>
<circle cx="151.29" cy="606.20" r="1.15" fill="#2f62c2"/>
<circle cx="150.80" cy="607.81" r="1.15" fill="#2f62c2"/>
<circle cx="150.72" cy="609.35" r="1.15" fill="#2f62c2"/>
<circle cx="154.85" cy="620.47" r="1.15" fill="#2f62c2"/>
<circle cx="153.88" cy="622.23" r="1.15" fill="#2f62c2"/>
<circle cx="155.09" cy="619.67" r="1.15" fill="#2f62c2"/>
<circle cx="150.74" cy="617.23" r="1.15" fill="#2f62c2"/>
<circle cx="153.58" cy="621.92" r="1.15" fill="#2f62c2"/>
<circle cx="152.87" cy="620.78" r="1.15" fill="#2f62c2"/>
<circle cx="154.01" cy="618.34" r="1.15" fill="#2f62c2"/>
<circle cx="152.11" cy="615.29" r="1.15" fill="#2f62c2"/>
<circle cx="155.26" cy="621.26" r="1.15" fill="#2f62c2"/>
<circle cx="150.99" cy="618.43" r="1.15" fill="#2f62c2"/>
<circle cx="153.16" cy="609.83" r="1.15" fill="#2f62c2"/>
<rect x="149.65" y="609.02" width="6.60" height="13.28" fill="none" stroke="#2f62c2" stroke-width="1.05"/>
<line x1="152.95" y1="605.88" x2="152.95" y2="612.24" stroke="#2f62c2" stroke-width="1.1" stroke-linecap="butt"/>
<line x1="150.97" y1="605.88" x2="154.93" y2="605.88" stroke="#2f62c2" stroke-width="1.1" stroke-linecap="butt"/>
<line x1="150.97" y1="612.24" x2="154.93" y2="612.24" stroke="#2f62c2" stroke-width="1.1" stroke-linecap="butt"/>
<circle cx="164.36" cy="589.29" r="1.15" fill="#ef4130"/>
<circle cx="164.98" cy="600.56" r="1.15" fill="#ef4130"/>
<circle cx="165.10" cy="602.98" r="1.15" fill="#ef4130"/>
<circle cx="164.62" cy="608.62" r="1.15" fill="#ef4130"/>
<circle cx="165.08" cy="610.22" r="1.15" fill="#ef4130"/>
<circle cx="163.96" cy="615.80" r="1.15" fill="#ef4130"/>
<circle cx="164.88" cy="613.87" r="1.15" fill="#ef4130"/>
<circle cx="165.00" cy="615.80" r="1.15" fill="#ef4130"/>
<circle cx="162.56" cy="616.18" r="1.15" fill="#ef4130"/>
<circle cx="165.14" cy="615.15" r="1.15" fill="#ef4130"/>
<circle cx="166.78" cy="613.69" r="1.15" fill="#ef4130"/>
<circle cx="166.25" cy="619.82" r="1.15" fill="#ef4130"/>
<circle cx="165.55" cy="616.39" r="1.15" fill="#ef4130"/>
<circle cx="163.98" cy="613.87" r="1.15" fill="#ef4130"/>
<circle cx="165.59" cy="614.23" r="1.15" fill="#ef4130"/>
<rect x="161.20" y="614.25" width="6.60" height="8.05" fill="none" stroke="#ef4130" stroke-width="1.05"/>
<line x1="164.50" y1="611.83" x2="164.50" y2="616.66" stroke="#ef4130" stroke-width="1.1" stroke-linecap="butt"/>
<line x1="162.52" y1="611.83" x2="166.48" y2="611.83" stroke="#ef4130" stroke-width="1.1" stroke-linecap="butt"/>
<line x1="162.52" y1="616.66" x2="166.48" y2="616.66" stroke="#ef4130" stroke-width="1.1" stroke-linecap="butt"/>
<line x1="153.20" y1="584.70" x2="165.00" y2="584.70" stroke="#111" stroke-width="1.3" stroke-linecap="butt"/>
<text x="159.10" y="586.00" font-size="12" text-anchor="middle" fill="#1c1c1c">*</text>
<text x="69.70" y="629.60" font-size="8.6" text-anchor="end" fill="#1c1c1c" transform="rotate(-45 69.70 629.60)">Day 0</text>
<text x="102.30" y="629.60" font-size="8.6" text-anchor="end" fill="#1c1c1c" transform="rotate(-45 102.30 629.60)">Day 1</text>
<text x="131.20" y="629.60" font-size="8.6" text-anchor="end" fill="#1c1c1c" transform="rotate(-45 131.20 629.60)">Day 4</text>
<text x="162.20" y="629.60" font-size="8.6" text-anchor="end" fill="#1c1c1c" transform="rotate(-45 162.20 629.60)">Month 1</text>
<text x="187.80" y="578.85" font-size="8.75" text-anchor="middle" fill="#1c1c1c" transform="rotate(-90 187.80 578.85)">Relative abundance of ASVs shared</text>
<text x="197.90" y="577.55" font-size="8.75" text-anchor="middle" fill="#1c1c1c" transform="rotate(-90 197.90 577.55)">between mothers and offspring (%)</text>
<line x1="218.30" y1="540.50" x2="218.30" y2="623.50" stroke="#222" stroke-width="1.25" stroke-linecap="butt"/>
<line x1="217.70" y1="622.90" x2="340.00" y2="622.90" stroke="#444" stroke-width="1.6" stroke-linecap="butt"/>
<line x1="213.80" y1="622.90" x2="218.30" y2="622.90" stroke="#222" stroke-width="1.1" stroke-linecap="butt"/>
<text transform="translate(211.90 626.00) scale(0.95 1)" font-size="8.6" text-anchor="end" fill="#1c1c1c">0</text>
<line x1="213.80" y1="606.54" x2="218.30" y2="606.54" stroke="#222" stroke-width="1.1" stroke-linecap="butt"/>
<text transform="translate(211.90 609.64) scale(0.95 1)" font-size="8.6" text-anchor="end" fill="#1c1c1c">20</text>
<line x1="213.80" y1="590.18" x2="218.30" y2="590.18" stroke="#222" stroke-width="1.1" stroke-linecap="butt"/>
<text transform="translate(211.90 593.28) scale(0.95 1)" font-size="8.6" text-anchor="end" fill="#1c1c1c">40</text>
<line x1="213.80" y1="573.82" x2="218.30" y2="573.82" stroke="#222" stroke-width="1.1" stroke-linecap="butt"/>
<text transform="translate(211.90 576.92) scale(0.95 1)" font-size="8.6" text-anchor="end" fill="#1c1c1c">60</text>
<line x1="213.80" y1="557.46" x2="218.30" y2="557.46" stroke="#222" stroke-width="1.1" stroke-linecap="butt"/>
<text transform="translate(211.90 560.56) scale(0.95 1)" font-size="8.6" text-anchor="end" fill="#1c1c1c">80</text>
<line x1="213.80" y1="541.10" x2="218.30" y2="541.10" stroke="#222" stroke-width="1.1" stroke-linecap="butt"/>
<text transform="translate(212.70 544.20) scale(0.95 1)" font-size="8.6" text-anchor="end" fill="#1c1c1c">100</text>
<circle cx="226.39" cy="585.27" r="1.15" fill="#2f62c2"/>
<circle cx="225.39" cy="595.09" r="1.15" fill="#2f62c2"/>
<circle cx="226.05" cy="595.09" r="1.15" fill="#2f62c2"/>
<circle cx="224.68" cy="610.63" r="1.15" fill="#2f62c2"/>
<circle cx="225.05" cy="613.08" r="1.15" fill="#2f62c2"/>
<circle cx="225.68" cy="621.20" r="1.15" fill="#2f62c2"/>
<circle cx="227.56" cy="616.89" r="1.15" fill="#2f62c2"/>
<circle cx="226.50" cy="616.91" r="1.15" fill="#2f62c2"/>
<circle cx="223.76" cy="614.96" r="1.15" fill="#2f62c2"/>
<circle cx="224.96" cy="621.80" r="1.15" fill="#2f62c2"/>
<circle cx="224.37" cy="621.44" r="1.15" fill="#2f62c2"/>
<circle cx="227.72" cy="622.09" r="1.15" fill="#2f62c2"/>
<circle cx="227.43" cy="621.49" r="1.15" fill="#2f62c2"/>
<rect x="222.70" y="613.08" width="6.60" height="9.82" fill="none" stroke="#2f62c2" stroke-width="1.05"/>
<line x1="226.00" y1="610.22" x2="226.00" y2="615.95" stroke="#2f62c2" stroke-width="1.1" stroke-linecap="butt"/>
<line x1="224.02" y1="610.22" x2="227.98" y2="610.22" stroke="#2f62c2" stroke-width="1.1" stroke-linecap="butt"/>
<line x1="224.02" y1="615.95" x2="227.98" y2="615.95" stroke="#2f62c2" stroke-width="1.1" stroke-linecap="butt"/>
<circle cx="238.48" cy="598.36" r="1.15" fill="#ef4130"/>
<circle cx="237.88" cy="600.81" r="1.15" fill="#ef4130"/>
<circle cx="239.08" cy="606.54" r="1.15" fill="#ef4130"/>
<circle cx="238.20" cy="614.72" r="1.15" fill="#ef4130"/>
<circle cx="237.57" cy="618.81" r="1.15" fill="#ef4130"/>
<circle cx="237.27" cy="616.72" r="1.15" fill="#ef4130"/>
<circle cx="237.58" cy="616.52" r="1.15" fill="#ef4130"/>
<circle cx="237.04" cy="617.32" r="1.15" fill="#ef4130"/>
<circle cx="236.13" cy="615.25" r="1.15" fill="#ef4130"/>
<circle cx="239.38" cy="616.84" r="1.15" fill="#ef4130"/>
<circle cx="239.28" cy="621.50" r="1.15" fill="#ef4130"/>
<rect x="234.60" y="612.27" width="6.60" height="10.63" fill="none" stroke="#ef4130" stroke-width="1.05"/>
<line x1="237.90" y1="608.18" x2="237.90" y2="616.36" stroke="#ef4130" stroke-width="1.1" stroke-linecap="butt"/>
<line x1="235.92" y1="608.18" x2="239.88" y2="608.18" stroke="#ef4130" stroke-width="1.1" stroke-linecap="butt"/>
<line x1="235.92" y1="616.36" x2="239.88" y2="616.36" stroke="#ef4130" stroke-width="1.1" stroke-linecap="butt"/>
<circle cx="257.26" cy="583.64" r="1.15" fill="#2f62c2"/>
<circle cx="257.79" cy="593.45" r="1.15" fill="#2f62c2"/>
<circle cx="257.34" cy="595.91" r="1.15" fill="#2f62c2"/>
<circle cx="257.68" cy="598.36" r="1.15" fill="#2f62c2"/>
<circle cx="258.24" cy="602.45" r="1.15" fill="#2f62c2"/>
<circle cx="257.27" cy="606.54" r="1.15" fill="#2f62c2"/>
<circle cx="256.04" cy="610.63" r="1.15" fill="#2f62c2"/>
<circle cx="257.71" cy="610.86" r="1.15" fill="#2f62c2"/>
<circle cx="256.53" cy="615.31" r="1.15" fill="#2f62c2"/>
<circle cx="256.53" cy="617.20" r="1.15" fill="#2f62c2"/>
<circle cx="256.34" cy="614.48" r="1.15" fill="#2f62c2"/>
<circle cx="257.13" cy="621.99" r="1.15" fill="#2f62c2"/>
<circle cx="255.78" cy="615.51" r="1.15" fill="#2f62c2"/>
<circle cx="258.45" cy="618.64" r="1.15" fill="#2f62c2"/>
<circle cx="259.85" cy="621.61" r="1.15" fill="#2f62c2"/>
<rect x="254.45" y="610.63" width="6.60" height="12.27" fill="none" stroke="#2f62c2" stroke-width="1.05"/>
<line x1="257.75" y1="606.13" x2="257.75" y2="615.13" stroke="#2f62c2" stroke-width="1.1" stroke-linecap="butt"/>
<line x1="255.77" y1="606.13" x2="259.73" y2="606.13" stroke="#2f62c2" stroke-width="1.1" stroke-linecap="butt"/>
<line x1="255.77" y1="615.13" x2="259.73" y2="615.13" stroke="#2f62c2" stroke-width="1.1" stroke-linecap="butt"/>
<circle cx="268.66" cy="549.28" r="1.15" fill="#ef4130"/>
<circle cx="269.76" cy="550.92" r="1.15" fill="#ef4130"/>
<circle cx="270.81" cy="590.18" r="1.15" fill="#ef4130"/>
<circle cx="269.89" cy="606.54" r="1.15" fill="#ef4130"/>
<circle cx="267.68" cy="610.63" r="1.15" fill="#ef4130"/>
<circle cx="268.85" cy="614.72" r="1.15" fill="#ef4130"/>
<circle cx="270.95" cy="618.81" r="1.15" fill="#ef4130"/>
<circle cx="271.03" cy="622.90" r="1.15" fill="#ef4130"/>
<circle cx="270.65" cy="620.50" r="1.15" fill="#ef4130"/>
<circle cx="267.88" cy="617.57" r="1.15" fill="#ef4130"/>
<circle cx="270.88" cy="615.43" r="1.15" fill="#ef4130"/>
<circle cx="268.67" cy="622.76" r="1.15" fill="#ef4130"/>
<rect x="265.95" y="603.27" width="6.60" height="19.63" fill="none" stroke="#ef4130" stroke-width="1.05"/>
<line x1="269.25" y1="595.09" x2="269.25" y2="611.45" stroke="#ef4130" stroke-width="1.1" stroke-linecap="butt"/>
<line x1="267.27" y1="595.09" x2="271.23" y2="595.09" stroke="#ef4130" stroke-width="1.1" stroke-linecap="butt"/>
<line x1="267.27" y1="611.45" x2="271.23" y2="611.45" stroke="#ef4130" stroke-width="1.1" stroke-linecap="butt"/>
<circle cx="288.88" cy="545.19" r="1.15" fill="#2f62c2"/>
<circle cx="288.24" cy="582.00" r="1.15" fill="#2f62c2"/>
<circle cx="288.16" cy="583.64" r="1.15" fill="#2f62c2"/>
<circle cx="286.95" cy="594.27" r="1.15" fill="#2f62c2"/>
<circle cx="289.35" cy="602.45" r="1.15" fill="#2f62c2"/>
<circle cx="286.71" cy="604.90" r="1.15" fill="#2f62c2"/>
<circle cx="287.23" cy="606.54" r="1.15" fill="#2f62c2"/>
<circle cx="286.51" cy="612.29" r="1.15" fill="#2f62c2"/>
<circle cx="289.16" cy="621.67" r="1.15" fill="#2f62c2"/>
<circle cx="288.76" cy="607.15" r="1.15" fill="#2f62c2"/>
<circle cx="288.70" cy="614.41" r="1.15" fill="#2f62c2"/>
<circle cx="286.37" cy="612.17" r="1.15" fill="#2f62c2"/>
<circle cx="288.22" cy="620.73" r="1.15" fill="#2f62c2"/>
<circle cx="287.77" cy="614.16" r="1.15" fill="#2f62c2"/>
<circle cx="286.62" cy="614.83" r="1.15" fill="#2f62c2"/>
<circle cx="286.20" cy="614.64" r="1.15" fill="#2f62c2"/>
<circle cx="290.80" cy="618.58" r="1.15" fill="#2f62c2"/>
<rect x="285.20" y="603.27" width="6.60" height="19.63" fill="none" stroke="#2f62c2" stroke-width="1.05"/>
<line x1="288.50" y1="600.00" x2="288.50" y2="606.54" stroke="#2f62c2" stroke-width="1.1" stroke-linecap="butt"/>
<line x1="286.52" y1="600.00" x2="290.48" y2="600.00" stroke="#2f62c2" stroke-width="1.1" stroke-linecap="butt"/>
<line x1="286.52" y1="606.54" x2="290.48" y2="606.54" stroke="#2f62c2" stroke-width="1.1" stroke-linecap="butt"/>
<circle cx="300.03" cy="543.55" r="1.15" fill="#ef4130"/>
<circle cx="300.80" cy="545.19" r="1.15" fill="#ef4130"/>
<circle cx="299.43" cy="547.64" r="1.15" fill="#ef4130"/>
<circle cx="299.98" cy="559.91" r="1.15" fill="#ef4130"/>
<circle cx="300.23" cy="586.09" r="1.15" fill="#ef4130"/>
<circle cx="302.42" cy="586.91" r="1.15" fill="#ef4130"/>
<circle cx="300.33" cy="598.36" r="1.15" fill="#ef4130"/>
<circle cx="300.13" cy="602.45" r="1.15" fill="#ef4130"/>
<circle cx="301.03" cy="606.54" r="1.15" fill="#ef4130"/>
<circle cx="299.31" cy="610.63" r="1.15" fill="#ef4130"/>
<circle cx="298.09" cy="622.11" r="1.15" fill="#ef4130"/>
<circle cx="300.26" cy="620.32" r="1.15" fill="#ef4130"/>
<circle cx="302.15" cy="620.67" r="1.15" fill="#ef4130"/>
<circle cx="301.35" cy="616.62" r="1.15" fill="#ef4130"/>
<circle cx="299.13" cy="622.46" r="1.15" fill="#ef4130"/>
<circle cx="301.10" cy="618.30" r="1.15" fill="#ef4130"/>
<rect x="296.95" y="600.00" width="6.60" height="22.90" fill="none" stroke="#ef4130" stroke-width="1.05"/>
<line x1="300.25" y1="593.45" x2="300.25" y2="606.54" stroke="#ef4130" stroke-width="1.1" stroke-linecap="butt"/>
<line x1="298.27" y1="593.45" x2="302.23" y2="593.45" stroke="#ef4130" stroke-width="1.1" stroke-linecap="butt"/>
<line x1="298.27" y1="606.54" x2="302.23" y2="606.54" stroke="#ef4130" stroke-width="1.1" stroke-linecap="butt"/>
<circle cx="319.91" cy="553.37" r="1.15" fill="#2f62c2"/>
<circle cx="318.93" cy="568.09" r="1.15" fill="#2f62c2"/>
<circle cx="320.20" cy="577.91" r="1.15" fill="#2f62c2"/>
<circle cx="319.24" cy="584.45" r="1.15" fill="#2f62c2"/>
<circle cx="319.66" cy="594.27" r="1.15" fill="#2f62c2"/>
<circle cx="320.00" cy="595.91" r="1.15" fill="#2f62c2"/>
<circle cx="318.98" cy="598.36" r="1.15" fill="#2f62c2"/>
<circle cx="318.78" cy="604.38" r="1.15" fill="#2f62c2"/>
<circle cx="319.45" cy="618.95" r="1.15" fill="#2f62c2"/>
<circle cx="318.07" cy="611.42" r="1.15" fill="#2f62c2"/>
<circle cx="321.43" cy="616.93" r="1.15" fill="#2f62c2"/>
<circle cx="317.96" cy="619.23" r="1.15" fill="#2f62c2"/>
<circle cx="321.24" cy="618.37" r="1.15" fill="#2f62c2"/>
<circle cx="318.45" cy="620.00" r="1.15" fill="#2f62c2"/>
<circle cx="318.84" cy="617.03" r="1.15" fill="#2f62c2"/>
<circle cx="319.23" cy="622.57" r="1.15" fill="#2f62c2"/>
<circle cx="317.59" cy="615.99" r="1.15" fill="#2f62c2"/>
<circle cx="318.03" cy="621.95" r="1.15" fill="#2f62c2"/>
<circle cx="319.11" cy="606.92" r="1.15" fill="#2f62c2"/>
<rect x="316.45" y="600.00" width="6.60" height="22.90" fill="none" stroke="#2f62c2" stroke-width="1.05"/>
<line x1="319.75" y1="594.68" x2="319.75" y2="605.31" stroke="#2f62c2" stroke-width="1.1" stroke-linecap="butt"/>
<line x1="317.77" y1="594.68" x2="321.73" y2="594.68" stroke="#2f62c2" stroke-width="1.1" stroke-linecap="butt"/>
<line x1="317.77" y1="605.31" x2="321.73" y2="605.31" stroke="#2f62c2" stroke-width="1.1" stroke-linecap="butt"/>
<circle cx="330.88" cy="555.82" r="1.15" fill="#ef4130"/>
<circle cx="330.68" cy="586.09" r="1.15" fill="#ef4130"/>
<circle cx="331.08" cy="587.73" r="1.15" fill="#ef4130"/>
<circle cx="332.11" cy="590.18" r="1.15" fill="#ef4130"/>
<circle cx="330.92" cy="594.27" r="1.15" fill="#ef4130"/>
<circle cx="331.40" cy="598.36" r="1.15" fill="#ef4130"/>
<circle cx="330.91" cy="602.45" r="1.15" fill="#ef4130"/>
<circle cx="330.78" cy="617.24" r="1.15" fill="#ef4130"/>
<circle cx="332.89" cy="609.12" r="1.15" fill="#ef4130"/>
<circle cx="330.18" cy="606.76" r="1.15" fill="#ef4130"/>
<circle cx="332.51" cy="622.62" r="1.15" fill="#ef4130"/>
<circle cx="332.27" cy="615.64" r="1.15" fill="#ef4130"/>
<circle cx="333.51" cy="621.75" r="1.15" fill="#ef4130"/>
<circle cx="331.59" cy="610.59" r="1.15" fill="#ef4130"/>
<circle cx="333.44" cy="619.14" r="1.15" fill="#ef4130"/>
<circle cx="331.23" cy="608.78" r="1.15" fill="#ef4130"/>
<circle cx="331.84" cy="615.46" r="1.15" fill="#ef4130"/>
<rect x="328.20" y="607.36" width="6.60" height="15.54" fill="none" stroke="#ef4130" stroke-width="1.05"/>
<line x1="331.50" y1="603.27" x2="331.50" y2="611.45" stroke="#ef4130" stroke-width="1.1" stroke-linecap="butt"/>
<line x1="329.52" y1="603.27" x2="333.48" y2="603.27" stroke="#ef4130" stroke-width="1.1" stroke-linecap="butt"/>
<line x1="329.52" y1="611.45" x2="333.48" y2="611.45" stroke="#ef4130" stroke-width="1.1" stroke-linecap="butt"/>
<text x="234.50" y="632.20" font-size="8.6" text-anchor="end" fill="#1c1c1c" transform="rotate(-45 234.50 632.20)">Day 0</text>
<text x="267.00" y="632.20" font-size="8.6" text-anchor="end" fill="#1c1c1c" transform="rotate(-45 267.00 632.20)">Day 1</text>
<text x="296.90" y="632.20" font-size="8.6" text-anchor="end" fill="#1c1c1c" transform="rotate(-45 296.90 632.20)">Day 4</text>
<text x="326.50" y="632.20" font-size="8.6" text-anchor="end" fill="#1c1c1c" transform="rotate(-45 326.50 632.20)">Month 1</text>
<circle cx="154.70" cy="671.40" r="2.1" fill="#2f62c2"/>
<text x="162.60" y="675.10" font-size="10.3" text-anchor="start" fill="#333">Vaginal delivery</text>
<circle cx="154.70" cy="688.30" r="2.1" fill="#ef4130"/>
<text x="162.60" y="691.80" font-size="10.3" text-anchor="start" fill="#333">Cesarian-section delivery</text>
<text x="356.80" y="585.45" font-size="8.75" text-anchor="middle" fill="#1c1c1c" transform="rotate(-90 356.80 585.45)">Rate of ASVs shared</text>
<text x="366.80" y="584.20" font-size="8.75" text-anchor="middle" fill="#1c1c1c" transform="rotate(-90 366.80 584.20)">between mothers and offspring (%)</text>
<line x1="388.50" y1="541.50" x2="388.50" y2="625.90" stroke="#222" stroke-width="1.25" stroke-linecap="butt"/>
<line x1="387.90" y1="625.30" x2="513.00" y2="625.30" stroke="#444" stroke-width="1.6" stroke-linecap="butt"/>
<line x1="384.00" y1="625.30" x2="388.50" y2="625.30" stroke="#222" stroke-width="1.1" stroke-linecap="butt"/>
<text transform="translate(381.80 628.40) scale(0.95 1)" font-size="8.6" text-anchor="end" fill="#1c1c1c">0</text>
<line x1="384.00" y1="608.66" x2="388.50" y2="608.66" stroke="#222" stroke-width="1.1" stroke-linecap="butt"/>
<text transform="translate(381.80 611.76) scale(0.95 1)" font-size="8.6" text-anchor="end" fill="#1c1c1c">20</text>
<line x1="384.00" y1="592.02" x2="388.50" y2="592.02" stroke="#222" stroke-width="1.1" stroke-linecap="butt"/>
<text transform="translate(381.80 595.12) scale(0.95 1)" font-size="8.6" text-anchor="end" fill="#1c1c1c">40</text>
<line x1="384.00" y1="575.38" x2="388.50" y2="575.38" stroke="#222" stroke-width="1.1" stroke-linecap="butt"/>
<text transform="translate(381.80 578.48) scale(0.95 1)" font-size="8.6" text-anchor="end" fill="#1c1c1c">60</text>
<line x1="384.00" y1="558.74" x2="388.50" y2="558.74" stroke="#222" stroke-width="1.1" stroke-linecap="butt"/>
<text transform="translate(381.80 561.84) scale(0.95 1)" font-size="8.6" text-anchor="end" fill="#1c1c1c">80</text>
<line x1="384.00" y1="542.10" x2="388.50" y2="542.10" stroke="#222" stroke-width="1.1" stroke-linecap="butt"/>
<text transform="translate(382.60 545.20) scale(0.95 1)" font-size="8.6" text-anchor="end" fill="#1c1c1c">100</text>
<circle cx="397.38" cy="588.69" r="1.15" fill="#2f62c2"/>
<circle cx="397.05" cy="605.33" r="1.15" fill="#2f62c2"/>
<circle cx="397.34" cy="609.49" r="1.15" fill="#2f62c2"/>
<circle cx="399.06" cy="611.99" r="1.15" fill="#2f62c2"/>
<circle cx="395.55" cy="613.65" r="1.15" fill="#2f62c2"/>
<circle cx="396.00" cy="615.32" r="1.15" fill="#2f62c2"/>
<circle cx="397.71" cy="618.94" r="1.15" fill="#2f62c2"/>
<circle cx="395.74" cy="625.28" r="1.15" fill="#2f62c2"/>
<circle cx="395.66" cy="620.83" r="1.15" fill="#2f62c2"/>
<circle cx="395.50" cy="624.70" r="1.15" fill="#2f62c2"/>
<circle cx="398.40" cy="618.76" r="1.15" fill="#2f62c2"/>
<circle cx="398.48" cy="625.27" r="1.15" fill="#2f62c2"/>
<rect x="393.45" y="617.81" width="6.60" height="7.49" fill="none" stroke="#2f62c2" stroke-width="1.05"/>
<line x1="396.75" y1="614.07" x2="396.75" y2="621.56" stroke="#2f62c2" stroke-width="1.1" stroke-linecap="butt"/>
<line x1="394.77" y1="614.07" x2="398.73" y2="614.07" stroke="#2f62c2" stroke-width="1.1" stroke-linecap="butt"/>
<line x1="394.77" y1="621.56" x2="398.73" y2="621.56" stroke="#2f62c2" stroke-width="1.1" stroke-linecap="butt"/>
<circle cx="409.11" cy="616.98" r="1.15" fill="#ef4130"/>
<circle cx="409.71" cy="618.64" r="1.15" fill="#ef4130"/>
<circle cx="409.24" cy="620.31" r="1.15" fill="#ef4130"/>
<circle cx="408.56" cy="622.82" r="1.15" fill="#ef4130"/>
<circle cx="410.68" cy="624.83" r="1.15" fill="#ef4130"/>
<circle cx="411.29" cy="622.29" r="1.15" fill="#ef4130"/>
<circle cx="408.95" cy="623.91" r="1.15" fill="#ef4130"/>
<circle cx="411.06" cy="624.80" r="1.15" fill="#ef4130"/>
<circle cx="406.78" cy="624.10" r="1.15" fill="#ef4130"/>
<circle cx="407.34" cy="624.22" r="1.15" fill="#ef4130"/>
<circle cx="407.49" cy="625.18" r="1.15" fill="#ef4130"/>
<circle cx="411.02" cy="623.72" r="1.15" fill="#ef4130"/>
<circle cx="409.88" cy="624.42" r="1.15" fill="#ef4130"/>
<rect x="405.70" y="623.64" width="6.60" height="1.66" fill="none" stroke="#ef4130" stroke-width="1.05"/>
<line x1="409.00" y1="622.80" x2="409.00" y2="624.47" stroke="#ef4130" stroke-width="1.1" stroke-linecap="butt"/>
<line x1="407.02" y1="622.80" x2="410.98" y2="622.80" stroke="#ef4130" stroke-width="1.1" stroke-linecap="butt"/>
<line x1="407.02" y1="624.47" x2="410.98" y2="624.47" stroke="#ef4130" stroke-width="1.1" stroke-linecap="butt"/>
<circle cx="428.25" cy="574.55" r="1.15" fill="#2f62c2"/>
<circle cx="428.95" cy="588.69" r="1.15" fill="#2f62c2"/>
<circle cx="429.56" cy="599.51" r="1.15" fill="#2f62c2"/>
<circle cx="429.25" cy="611.16" r="1.15" fill="#2f62c2"/>
<circle cx="428.54" cy="622.59" r="1.15" fill="#2f62c2"/>
<circle cx="429.01" cy="624.48" r="1.15" fill="#2f62c2"/>
<circle cx="427.52" cy="623.63" r="1.15" fill="#2f62c2"/>
<circle cx="431.07" cy="621.74" r="1.15" fill="#2f62c2"/>
<circle cx="428.32" cy="625.09" r="1.15" fill="#2f62c2"/>
<circle cx="427.78" cy="625.05" r="1.15" fill="#2f62c2"/>
<rect x="425.70" y="617.81" width="6.60" height="7.49" fill="none" stroke="#2f62c2" stroke-width="1.05"/>
<line x1="429.00" y1="613.24" x2="429.00" y2="621.97" stroke="#2f62c2" stroke-width="1.1" stroke-linecap="butt"/>
<line x1="427.02" y1="613.24" x2="430.98" y2="613.24" stroke="#2f62c2" stroke-width="1.1" stroke-linecap="butt"/>
<line x1="427.02" y1="621.97" x2="430.98" y2="621.97" stroke="#2f62c2" stroke-width="1.1" stroke-linecap="butt"/>
<circle cx="440.12" cy="616.15" r="1.15" fill="#ef4130"/>
<circle cx="440.74" cy="618.64" r="1.15" fill="#ef4130"/>
<circle cx="440.55" cy="621.14" r="1.15" fill="#ef4130"/>
<circle cx="442.32" cy="624.75" r="1.15" fill="#ef4130"/>
<circle cx="442.73" cy="623.36" r="1.15" fill="#ef4130"/>
<circle cx="441.86" cy="624.74" r="1.15" fill="#ef4130"/>
<circle cx="439.77" cy="623.11" r="1.15" fill="#ef4130"/>
<circle cx="438.63" cy="624.69" r="1.15" fill="#ef4130"/>
<circle cx="442.57" cy="624.44" r="1.15" fill="#ef4130"/>
<circle cx="442.80" cy="625.22" r="1.15" fill="#ef4130"/>
<circle cx="439.17" cy="623.10" r="1.15" fill="#ef4130"/>
<circle cx="440.75" cy="623.44" r="1.15" fill="#ef4130"/>
<circle cx="440.66" cy="624.35" r="1.15" fill="#ef4130"/>
<rect x="437.45" y="624.05" width="6.60" height="1.25" fill="none" stroke="#ef4130" stroke-width="1.05"/>
<line x1="440.75" y1="623.22" x2="440.75" y2="624.88" stroke="#ef4130" stroke-width="1.1" stroke-linecap="butt"/>
<line x1="438.77" y1="623.22" x2="442.73" y2="623.22" stroke="#ef4130" stroke-width="1.1" stroke-linecap="butt"/>
<line x1="438.77" y1="624.88" x2="442.73" y2="624.88" stroke="#ef4130" stroke-width="1.1" stroke-linecap="butt"/>
<circle cx="460.57" cy="594.52" r="1.15" fill="#2f62c2"/>
<circle cx="460.44" cy="618.64" r="1.15" fill="#2f62c2"/>
<circle cx="460.97" cy="620.31" r="1.15" fill="#2f62c2"/>
<circle cx="461.94" cy="622.88" r="1.15" fill="#2f62c2"/>
<circle cx="460.69" cy="625.26" r="1.15" fill="#2f62c2"/>
<circle cx="460.54" cy="625.23" r="1.15" fill="#2f62c2"/>
<circle cx="461.80" cy="623.30" r="1.15" fill="#2f62c2"/>
<circle cx="462.20" cy="624.10" r="1.15" fill="#2f62c2"/>
<circle cx="461.69" cy="624.38" r="1.15" fill="#2f62c2"/>
<circle cx="460.38" cy="623.50" r="1.15" fill="#2f62c2"/>
<circle cx="462.74" cy="624.03" r="1.15" fill="#2f62c2"/>
<circle cx="462.64" cy="623.75" r="1.15" fill="#2f62c2"/>
<circle cx="463.07" cy="624.88" r="1.15" fill="#2f62c2"/>
<rect x="457.95" y="623.22" width="6.60" height="2.08" fill="none" stroke="#2f62c2" stroke-width="1.05"/>
<line x1="461.25" y1="621.56" x2="461.25" y2="624.88" stroke="#2f62c2" stroke-width="1.1" stroke-linecap="butt"/>
<line x1="459.27" y1="621.56" x2="463.23" y2="621.56" stroke="#2f62c2" stroke-width="1.1" stroke-linecap="butt"/>
<line x1="459.27" y1="624.88" x2="463.23" y2="624.88" stroke="#2f62c2" stroke-width="1.1" stroke-linecap="butt"/>
<circle cx="473.93" cy="613.65" r="1.15" fill="#ef4130"/>
<circle cx="473.55" cy="619.48" r="1.15" fill="#ef4130"/>
<circle cx="472.94" cy="621.14" r="1.15" fill="#ef4130"/>
<circle cx="472.41" cy="623.15" r="1.15" fill="#ef4130"/>
<circle cx="473.73" cy="625.29" r="1.15" fill="#ef4130"/>
<circle cx="474.18" cy="623.82" r="1.15" fill="#ef4130"/>
<circle cx="472.51" cy="624.67" r="1.15" fill="#ef4130"/>
<circle cx="471.21" cy="624.57" r="1.15" fill="#ef4130"/>
<circle cx="471.74" cy="624.24" r="1.15" fill="#ef4130"/>
<circle cx="474.92" cy="625.10" r="1.15" fill="#ef4130"/>
<circle cx="474.31" cy="624.89" r="1.15" fill="#ef4130"/>
<circle cx="471.44" cy="622.85" r="1.15" fill="#ef4130"/>
<circle cx="474.80" cy="624.71" r="1.15" fill="#ef4130"/>
<rect x="469.95" y="624.05" width="6.60" height="1.25" fill="none" stroke="#ef4130" stroke-width="1.05"/>
<line x1="473.25" y1="623.22" x2="473.25" y2="624.88" stroke="#ef4130" stroke-width="1.1" stroke-linecap="butt"/>
<line x1="471.27" y1="623.22" x2="475.23" y2="623.22" stroke="#ef4130" stroke-width="1.1" stroke-linecap="butt"/>
<line x1="471.27" y1="624.88" x2="475.23" y2="624.88" stroke="#ef4130" stroke-width="1.1" stroke-linecap="butt"/>
<circle cx="493.07" cy="616.98" r="1.15" fill="#2f62c2"/>
<circle cx="493.73" cy="618.64" r="1.15" fill="#2f62c2"/>
<circle cx="492.43" cy="620.31" r="1.15" fill="#2f62c2"/>
<circle cx="494.56" cy="624.08" r="1.15" fill="#2f62c2"/>
<circle cx="491.66" cy="624.70" r="1.15" fill="#2f62c2"/>
<circle cx="493.97" cy="623.14" r="1.15" fill="#2f62c2"/>
<circle cx="494.81" cy="625.13" r="1.15" fill="#2f62c2"/>
<circle cx="493.97" cy="625.18" r="1.15" fill="#2f62c2"/>
<circle cx="493.61" cy="624.68" r="1.15" fill="#2f62c2"/>
<circle cx="493.48" cy="623.62" r="1.15" fill="#2f62c2"/>
<circle cx="494.41" cy="624.16" r="1.15" fill="#2f62c2"/>
<circle cx="492.64" cy="624.33" r="1.15" fill="#2f62c2"/>
<circle cx="492.81" cy="623.10" r="1.15" fill="#2f62c2"/>
<rect x="489.95" y="624.30" width="6.60" height="1.00" fill="none" stroke="#2f62c2" stroke-width="1.05"/>
<line x1="493.25" y1="623.64" x2="493.25" y2="624.97" stroke="#2f62c2" stroke-width="1.1" stroke-linecap="butt"/>
<line x1="491.27" y1="623.64" x2="495.23" y2="623.64" stroke="#2f62c2" stroke-width="1.1" stroke-linecap="butt"/>
<line x1="491.27" y1="624.97" x2="495.23" y2="624.97" stroke="#2f62c2" stroke-width="1.1" stroke-linecap="butt"/>
<circle cx="506.55" cy="608.66" r="1.15" fill="#ef4130"/>
<circle cx="506.50" cy="624.52" r="1.15" fill="#ef4130"/>
<circle cx="505.32" cy="624.59" r="1.15" fill="#ef4130"/>
<circle cx="504.70" cy="625.20" r="1.15" fill="#ef4130"/>
<circle cx="504.04" cy="624.57" r="1.15" fill="#ef4130"/>
<circle cx="504.70" cy="624.68" r="1.15" fill="#ef4130"/>
<circle cx="508.05" cy="625.15" r="1.15" fill="#ef4130"/>
<circle cx="503.72" cy="624.24" r="1.15" fill="#ef4130"/>
<circle cx="507.67" cy="624.10" r="1.15" fill="#ef4130"/>
<circle cx="506.66" cy="624.89" r="1.15" fill="#ef4130"/>
<circle cx="507.06" cy="623.92" r="1.15" fill="#ef4130"/>
<rect x="502.45" y="624.47" width="6.60" height="0.83" fill="none" stroke="#ef4130" stroke-width="1.05"/>
<line x1="505.75" y1="623.97" x2="505.75" y2="624.97" stroke="#ef4130" stroke-width="1.1" stroke-linecap="butt"/>
<line x1="503.77" y1="623.97" x2="507.73" y2="623.97" stroke="#ef4130" stroke-width="1.1" stroke-linecap="butt"/>
<line x1="503.77" y1="624.97" x2="507.73" y2="624.97" stroke="#ef4130" stroke-width="1.1" stroke-linecap="butt"/>
<text x="406.00" y="635.00" font-size="8.6" text-anchor="end" fill="#1c1c1c" transform="rotate(-45 406.00 635.00)">Day 0</text>
<text x="438.80" y="635.00" font-size="8.6" text-anchor="end" fill="#1c1c1c" transform="rotate(-45 438.80 635.00)">Day 1</text>
<text x="471.40" y="635.00" font-size="8.6" text-anchor="end" fill="#1c1c1c" transform="rotate(-45 471.40 635.00)">Day 4</text>
<text x="501.70" y="635.00" font-size="8.6" text-anchor="end" fill="#1c1c1c" transform="rotate(-45 501.70 635.00)">Month 1</text>
<text x="525.05" y="585.30" font-size="8.75" text-anchor="middle" fill="#1c1c1c" transform="rotate(-90 525.05 585.30)">Relative abundance of ASVs shared</text>
<text x="535.05" y="583.85" font-size="8.75" text-anchor="middle" fill="#1c1c1c" transform="rotate(-90 535.05 583.85)">between mothers and offspring (%)</text>
<line x1="557.50" y1="540.50" x2="557.50" y2="627.50" stroke="#222" stroke-width="1.25" stroke-linecap="butt"/>
<line x1="556.90" y1="626.90" x2="685.00" y2="626.90" stroke="#444" stroke-width="1.6" stroke-linecap="butt"/>
<line x1="553.00" y1="626.90" x2="557.50" y2="626.90" stroke="#222" stroke-width="1.1" stroke-linecap="butt"/>
<text transform="translate(551.80 630.00) scale(0.95 1)" font-size="8.6" text-anchor="end" fill="#1c1c1c">0</text>
<line x1="553.00" y1="609.74" x2="557.50" y2="609.74" stroke="#222" stroke-width="1.1" stroke-linecap="butt"/>
<text transform="translate(551.80 612.84) scale(0.95 1)" font-size="8.6" text-anchor="end" fill="#1c1c1c">20</text>
<line x1="553.00" y1="592.58" x2="557.50" y2="592.58" stroke="#222" stroke-width="1.1" stroke-linecap="butt"/>
<text transform="translate(551.80 595.68) scale(0.95 1)" font-size="8.6" text-anchor="end" fill="#1c1c1c">40</text>
<line x1="553.00" y1="575.42" x2="557.50" y2="575.42" stroke="#222" stroke-width="1.1" stroke-linecap="butt"/>
<text transform="translate(551.80 578.52) scale(0.95 1)" font-size="8.6" text-anchor="end" fill="#1c1c1c">60</text>
<line x1="553.00" y1="558.26" x2="557.50" y2="558.26" stroke="#222" stroke-width="1.1" stroke-linecap="butt"/>
<text transform="translate(551.80 561.36) scale(0.95 1)" font-size="8.6" text-anchor="end" fill="#1c1c1c">80</text>
<line x1="553.00" y1="541.10" x2="557.50" y2="541.10" stroke="#222" stroke-width="1.1" stroke-linecap="butt"/>
<text transform="translate(552.60 544.20) scale(0.95 1)" font-size="8.6" text-anchor="end" fill="#1c1c1c">100</text>
<circle cx="565.69" cy="561.69" r="1.15" fill="#2f62c2"/>
<circle cx="565.59" cy="584.86" r="1.15" fill="#2f62c2"/>
<circle cx="565.52" cy="602.02" r="1.15" fill="#2f62c2"/>
<circle cx="563.45" cy="606.31" r="1.15" fill="#2f62c2"/>
<circle cx="563.06" cy="608.02" r="1.15" fill="#2f62c2"/>
<circle cx="564.71" cy="616.60" r="1.15" fill="#2f62c2"/>
<circle cx="566.39" cy="620.04" r="1.15" fill="#2f62c2"/>
<circle cx="564.11" cy="623.47" r="1.15" fill="#2f62c2"/>
<circle cx="565.26" cy="625.18" r="1.15" fill="#2f62c2"/>
<circle cx="564.41" cy="625.06" r="1.15" fill="#2f62c2"/>
<circle cx="566.85" cy="623.66" r="1.15" fill="#2f62c2"/>
<circle cx="567.31" cy="622.83" r="1.15" fill="#2f62c2"/>
<circle cx="564.80" cy="626.04" r="1.15" fill="#2f62c2"/>
<rect x="561.95" y="614.03" width="6.60" height="12.87" fill="none" stroke="#2f62c2" stroke-width="1.05"/>
<line x1="565.25" y1="608.88" x2="565.25" y2="619.18" stroke="#2f62c2" stroke-width="1.1" stroke-linecap="butt"/>
<line x1="563.27" y1="608.88" x2="567.23" y2="608.88" stroke="#2f62c2" stroke-width="1.1" stroke-linecap="butt"/>
<line x1="563.27" y1="619.18" x2="567.23" y2="619.18" stroke="#2f62c2" stroke-width="1.1" stroke-linecap="butt"/>
<circle cx="577.27" cy="610.60" r="1.15" fill="#ef4130"/>
<circle cx="577.93" cy="621.75" r="1.15" fill="#ef4130"/>
<circle cx="579.52" cy="622.61" r="1.15" fill="#ef4130"/>
<circle cx="578.39" cy="621.76" r="1.15" fill="#ef4130"/>
<circle cx="576.87" cy="626.76" r="1.15" fill="#ef4130"/>
<circle cx="575.82" cy="622.97" r="1.15" fill="#ef4130"/>
<circle cx="579.78" cy="622.57" r="1.15" fill="#ef4130"/>
<circle cx="577.63" cy="626.46" r="1.15" fill="#ef4130"/>
<circle cx="580.04" cy="623.63" r="1.15" fill="#ef4130"/>
<circle cx="576.09" cy="624.48" r="1.15" fill="#ef4130"/>
<circle cx="579.19" cy="622.05" r="1.15" fill="#ef4130"/>
<rect x="574.45" y="623.47" width="6.60" height="3.43" fill="none" stroke="#ef4130" stroke-width="1.05"/>
<line x1="577.75" y1="622.18" x2="577.75" y2="624.75" stroke="#ef4130" stroke-width="1.1" stroke-linecap="butt"/>
<line x1="575.77" y1="622.18" x2="579.73" y2="622.18" stroke="#ef4130" stroke-width="1.1" stroke-linecap="butt"/>
<line x1="575.77" y1="624.75" x2="579.73" y2="624.75" stroke="#ef4130" stroke-width="1.1" stroke-linecap="butt"/>
<circle cx="597.51" cy="560.83" r="1.15" fill="#2f62c2"/>
<circle cx="598.67" cy="578.85" r="1.15" fill="#2f62c2"/>
<circle cx="598.01" cy="580.57" r="1.15" fill="#2f62c2"/>
<circle cx="600.37" cy="609.74" r="1.15" fill="#2f62c2"/>
<circle cx="597.67" cy="616.60" r="1.15" fill="#2f62c2"/>
<circle cx="599.52" cy="620.04" r="1.15" fill="#2f62c2"/>
<circle cx="599.95" cy="623.47" r="1.15" fill="#2f62c2"/>
<circle cx="597.04" cy="625.18" r="1.15" fill="#2f62c2"/>
<circle cx="598.51" cy="624.28" r="1.15" fill="#2f62c2"/>
<circle cx="600.36" cy="623.82" r="1.15" fill="#2f62c2"/>
<circle cx="598.37" cy="626.88" r="1.15" fill="#2f62c2"/>
<circle cx="597.60" cy="625.95" r="1.15" fill="#2f62c2"/>
<rect x="594.95" y="614.89" width="6.60" height="12.01" fill="none" stroke="#2f62c2" stroke-width="1.05"/>
<line x1="598.25" y1="609.74" x2="598.25" y2="620.04" stroke="#2f62c2" stroke-width="1.1" stroke-linecap="butt"/>
<line x1="596.27" y1="609.74" x2="600.23" y2="609.74" stroke="#2f62c2" stroke-width="1.1" stroke-linecap="butt"/>
<line x1="596.27" y1="620.04" x2="600.23" y2="620.04" stroke="#2f62c2" stroke-width="1.1" stroke-linecap="butt"/>
<circle cx="610.22" cy="620.89" r="1.15" fill="#ef4130"/>
<circle cx="611.17" cy="621.75" r="1.15" fill="#ef4130"/>
<circle cx="610.86" cy="622.61" r="1.15" fill="#ef4130"/>
<circle cx="609.45" cy="626.28" r="1.15" fill="#ef4130"/>
<circle cx="608.24" cy="624.39" r="1.15" fill="#ef4130"/>
<circle cx="611.67" cy="626.50" r="1.15" fill="#ef4130"/>
<circle cx="609.80" cy="625.12" r="1.15" fill="#ef4130"/>
<circle cx="610.35" cy="625.30" r="1.15" fill="#ef4130"/>
<circle cx="609.45" cy="625.31" r="1.15" fill="#ef4130"/>
<circle cx="611.11" cy="626.66" r="1.15" fill="#ef4130"/>
<circle cx="611.56" cy="624.91" r="1.15" fill="#ef4130"/>
<circle cx="609.62" cy="623.84" r="1.15" fill="#ef4130"/>
<circle cx="608.54" cy="626.12" r="1.15" fill="#ef4130"/>
<rect x="607.20" y="624.75" width="6.60" height="2.14" fill="none" stroke="#ef4130" stroke-width="1.05"/>
<line x1="610.50" y1="623.47" x2="610.50" y2="626.04" stroke="#ef4130" stroke-width="1.1" stroke-linecap="butt"/>
<line x1="608.52" y1="623.47" x2="612.48" y2="623.47" stroke="#ef4130" stroke-width="1.1" stroke-linecap="butt"/>
<line x1="608.52" y1="626.04" x2="612.48" y2="626.04" stroke="#ef4130" stroke-width="1.1" stroke-linecap="butt"/>
<circle cx="630.25" cy="622.61" r="1.15" fill="#2f62c2"/>
<circle cx="629.60" cy="625.21" r="1.15" fill="#2f62c2"/>
<circle cx="629.14" cy="625.38" r="1.15" fill="#2f62c2"/>
<circle cx="628.95" cy="626.89" r="1.15" fill="#2f62c2"/>
<circle cx="629.42" cy="626.08" r="1.15" fill="#2f62c2"/>
<circle cx="632.33" cy="625.85" r="1.15" fill="#2f62c2"/>
<circle cx="630.92" cy="626.37" r="1.15" fill="#2f62c2"/>
<circle cx="632.16" cy="625.76" r="1.15" fill="#2f62c2"/>
<circle cx="632.69" cy="625.27" r="1.15" fill="#2f62c2"/>
<circle cx="632.19" cy="626.04" r="1.15" fill="#2f62c2"/>
<circle cx="628.67" cy="626.39" r="1.15" fill="#2f62c2"/>
<rect x="627.45" y="626.04" width="6.60" height="0.86" fill="none" stroke="#2f62c2" stroke-width="1.05"/>
<line x1="630.75" y1="625.36" x2="630.75" y2="626.73" stroke="#2f62c2" stroke-width="1.1" stroke-linecap="butt"/>
<line x1="628.77" y1="625.36" x2="632.73" y2="625.36" stroke="#2f62c2" stroke-width="1.1" stroke-linecap="butt"/>
<line x1="628.77" y1="626.73" x2="632.73" y2="626.73" stroke="#2f62c2" stroke-width="1.1" stroke-linecap="butt"/>
<circle cx="643.05" cy="624.33" r="1.15" fill="#ef4130"/>
<circle cx="641.92" cy="625.35" r="1.15" fill="#ef4130"/>
<circle cx="641.44" cy="626.82" r="1.15" fill="#ef4130"/>
<circle cx="642.05" cy="625.68" r="1.15" fill="#ef4130"/>
<circle cx="644.04" cy="625.53" r="1.15" fill="#ef4130"/>
<circle cx="642.94" cy="625.91" r="1.15" fill="#ef4130"/>
<circle cx="642.50" cy="626.37" r="1.15" fill="#ef4130"/>
<circle cx="642.94" cy="626.84" r="1.15" fill="#ef4130"/>
<circle cx="643.25" cy="626.83" r="1.15" fill="#ef4130"/>
<circle cx="643.07" cy="625.95" r="1.15" fill="#ef4130"/>
<circle cx="642.75" cy="626.63" r="1.15" fill="#ef4130"/>
<rect x="639.70" y="626.21" width="6.60" height="0.69" fill="none" stroke="#ef4130" stroke-width="1.05"/>
<line x1="643.00" y1="625.61" x2="643.00" y2="626.73" stroke="#ef4130" stroke-width="1.1" stroke-linecap="butt"/>
<line x1="641.02" y1="625.61" x2="644.98" y2="625.61" stroke="#ef4130" stroke-width="1.1" stroke-linecap="butt"/>
<line x1="641.02" y1="626.73" x2="644.98" y2="626.73" stroke="#ef4130" stroke-width="1.1" stroke-linecap="butt"/>
<circle cx="663.90" cy="619.18" r="1.15" fill="#2f62c2"/>
<circle cx="662.97" cy="621.75" r="1.15" fill="#2f62c2"/>
<circle cx="663.61" cy="624.43" r="1.15" fill="#2f62c2"/>
<circle cx="665.24" cy="625.12" r="1.15" fill="#2f62c2"/>
<circle cx="663.51" cy="626.52" r="1.15" fill="#2f62c2"/>
<circle cx="663.77" cy="626.32" r="1.15" fill="#2f62c2"/>
<circle cx="662.64" cy="626.61" r="1.15" fill="#2f62c2"/>
<circle cx="665.55" cy="626.21" r="1.15" fill="#2f62c2"/>
<circle cx="664.43" cy="626.87" r="1.15" fill="#2f62c2"/>
<circle cx="662.34" cy="625.15" r="1.15" fill="#2f62c2"/>
<circle cx="662.58" cy="625.67" r="1.15" fill="#2f62c2"/>
<circle cx="663.67" cy="626.06" r="1.15" fill="#2f62c2"/>
<rect x="659.95" y="625.61" width="6.60" height="1.29" fill="none" stroke="#2f62c2" stroke-width="1.05"/>
<line x1="663.25" y1="624.75" x2="663.25" y2="626.47" stroke="#2f62c2" stroke-width="1.1" stroke-linecap="butt"/>
<line x1="661.27" y1="624.75" x2="665.23" y2="624.75" stroke="#2f62c2" stroke-width="1.1" stroke-linecap="butt"/>
<line x1="661.27" y1="626.47" x2="665.23" y2="626.47" stroke="#2f62c2" stroke-width="1.1" stroke-linecap="butt"/>
<circle cx="675.71" cy="621.75" r="1.15" fill="#ef4130"/>
<circle cx="673.50" cy="625.80" r="1.15" fill="#ef4130"/>
<circle cx="674.66" cy="625.79" r="1.15" fill="#ef4130"/>
<circle cx="678.00" cy="626.60" r="1.15" fill="#ef4130"/>
<circle cx="677.26" cy="625.64" r="1.15" fill="#ef4130"/>
<circle cx="675.60" cy="625.27" r="1.15" fill="#ef4130"/>
<circle cx="676.91" cy="625.08" r="1.15" fill="#ef4130"/>
<circle cx="674.42" cy="625.99" r="1.15" fill="#ef4130"/>
<circle cx="674.67" cy="626.00" r="1.15" fill="#ef4130"/>
<circle cx="675.83" cy="625.84" r="1.15" fill="#ef4130"/>
<circle cx="676.67" cy="625.76" r="1.15" fill="#ef4130"/>
<rect x="672.45" y="625.61" width="6.60" height="1.29" fill="none" stroke="#ef4130" stroke-width="1.05"/>
<line x1="675.75" y1="624.75" x2="675.75" y2="626.47" stroke="#ef4130" stroke-width="1.1" stroke-linecap="butt"/>
<line x1="673.77" y1="624.75" x2="677.73" y2="624.75" stroke="#ef4130" stroke-width="1.1" stroke-linecap="butt"/>
<line x1="673.77" y1="626.47" x2="677.73" y2="626.47" stroke="#ef4130" stroke-width="1.1" stroke-linecap="butt"/>
<text x="575.50" y="636.70" font-size="8.6" text-anchor="end" fill="#1c1c1c" transform="rotate(-45 575.50 636.70)">Day 0</text>
<text x="608.00" y="636.70" font-size="8.6" text-anchor="end" fill="#1c1c1c" transform="rotate(-45 608.00 636.70)">Day 1</text>
<text x="641.00" y="636.70" font-size="8.6" text-anchor="end" fill="#1c1c1c" transform="rotate(-45 641.00 636.70)">Day 4</text>
<text x="674.50" y="636.70" font-size="8.6" text-anchor="end" fill="#1c1c1c" transform="rotate(-45 674.50 636.70)">Month 1</text>
<circle cx="482.50" cy="675.50" r="2.1" fill="#2f62c2"/>
<text x="490.00" y="679.20" font-size="10.3" text-anchor="start" fill="#333">Vaginal delivery</text>
<circle cx="482.50" cy="692.50" r="2.1" fill="#ef4130"/>
<text x="490.00" y="696.00" font-size="10.3" text-anchor="start" fill="#333">Cesarian-section delivery</text>
</svg></body></html>
